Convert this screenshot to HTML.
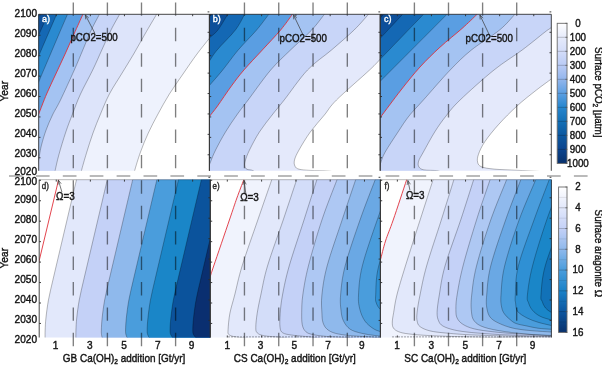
<!DOCTYPE html>
<html><head><meta charset="utf-8"><style>
html,body{margin:0;padding:0;background:#fff;}
body{width:602px;height:366px;position:relative;overflow:hidden;font-family:"Liberation Sans",sans-serif;}
#wrap{position:absolute;left:0;top:0;width:602px;height:366px;filter:blur(0.35px);}
</style></head><body><div id="wrap">
<svg xmlns="http://www.w3.org/2000/svg" width="602" height="366" viewBox="0 0 602 366" style="position:absolute;left:0;top:0">
<defs>
<clipPath id="clipa"><rect x="38.70" y="14.30" width="170.70" height="156.50"/></clipPath>
<clipPath id="clipb"><rect x="209.40" y="14.30" width="170.80" height="156.50"/></clipPath>
<clipPath id="clipc"><rect x="380.20" y="14.30" width="171.10" height="156.50"/></clipPath>
<clipPath id="clipd"><rect x="39.20" y="179.70" width="171.00" height="157.80"/></clipPath>
<clipPath id="clipe"><rect x="210.40" y="179.70" width="170.00" height="157.80"/></clipPath>
<clipPath id="clipf"><rect x="380.40" y="179.70" width="171.00" height="157.80"/></clipPath>
</defs>
<g clip-path="url(#clipa)">
<rect x="38.70" y="14.30" width="170.70" height="156.50" fill="#ffffff"/>
<path d="M213.00,33.50 C212.40,34.30 212.07,34.88 209.40,38.30 C206.73,41.72 201.40,48.05 197.00,54.00 C192.60,59.95 187.60,67.33 183.00,74.00 C178.40,80.67 173.57,87.33 169.40,94.00 C165.23,100.67 161.52,107.50 158.00,114.00 C154.48,120.50 151.22,126.67 148.30,133.00 C145.38,139.33 142.78,145.70 140.50,152.00 C138.22,158.30 135.68,166.97 134.60,170.80 C133.52,174.63 134.10,174.30 134.00,175.00 L134.00,250.80 L-41.30,250.80 L-41.30,-65.70 L289.40,-65.70 L289.40,33.50 Z" fill="#eef2fd"/>
<path d="M158.00,12.00 C157.77,12.38 158.77,10.63 156.60,14.30 C154.43,17.97 148.82,27.38 145.00,34.00 C141.18,40.62 137.62,47.33 133.70,54.00 C129.78,60.67 125.55,67.33 121.50,74.00 C117.45,80.67 112.90,87.33 109.40,94.00 C105.90,100.67 103.23,107.50 100.50,114.00 C97.77,120.50 95.33,126.50 93.00,133.00 C90.67,139.50 88.43,146.70 86.50,153.00 C84.57,159.30 82.35,167.13 81.40,170.80 C80.45,174.47 80.90,174.30 80.80,175.00 L80.80,250.80 L-41.30,250.80 L-41.30,-65.70 L158.00,-65.70 Z" fill="#dde4fa"/>
<path d="M120.80,12.00 C120.60,12.38 121.23,11.30 119.60,14.30 C117.97,17.30 113.97,24.05 111.00,30.00 C108.03,35.95 104.85,43.33 101.80,50.00 C98.75,56.67 96.25,62.67 92.70,70.00 C89.15,77.33 83.87,86.67 80.50,94.00 C77.13,101.33 74.95,107.67 72.50,114.00 C70.05,120.33 68.08,125.17 65.80,132.00 C63.52,138.83 60.58,148.53 58.80,155.00 C57.02,161.47 55.82,167.47 55.10,170.80 C54.38,174.13 54.60,174.30 54.50,175.00 L54.50,250.80 L-41.30,250.80 L-41.30,-65.70 L120.80,-65.70 Z" fill="#c8d5f8"/>
<path d="M100.40,12.00 C100.23,12.38 100.92,11.30 99.40,14.30 C97.88,17.30 94.07,24.05 91.30,30.00 C88.53,35.95 85.63,43.33 82.80,50.00 C79.97,56.67 78.02,61.67 74.30,70.00 C70.58,78.33 64.13,92.50 60.50,100.00 C56.87,107.50 54.90,110.00 52.50,115.00 C50.10,120.00 47.93,125.00 46.10,130.00 C44.27,135.00 42.60,140.83 41.50,145.00 C40.40,149.17 39.97,152.50 39.50,155.00 C39.03,157.50 38.98,158.17 38.70,160.00 C38.42,161.83 37.95,165.00 37.80,166.00 L-41.30,166.00 L-41.30,-65.70 L100.40,-65.70 Z" fill="#a4c3f2"/>
<path d="M84.00,12.00 C83.82,12.38 84.57,10.63 82.90,14.30 C81.23,17.97 76.97,27.38 74.00,34.00 C71.03,40.62 68.13,47.33 65.10,54.00 C62.07,60.67 58.88,67.33 55.80,74.00 C52.72,80.67 49.45,87.33 46.60,94.00 C43.75,100.67 40.30,110.00 38.70,114.00 C37.10,118.00 37.28,117.33 37.00,118.00 L-41.30,118.00 L-41.30,-65.70 L84.00,-65.70 Z" fill="#5a9ee2"/>
<path d="M68.50,12.00 C68.33,12.38 69.08,10.63 67.50,14.30 C65.92,17.97 61.83,27.38 59.00,34.00 C56.17,40.62 53.33,47.33 50.50,54.00 C47.67,60.67 43.97,69.33 42.00,74.00 C40.03,78.67 39.53,80.00 38.70,82.00 C37.87,84.00 37.28,85.33 37.00,86.00 L-41.30,86.00 L-41.30,-65.70 L68.50,-65.70 Z" fill="#2a8ad0"/>
<path d="M57.60,12.00 L36.50,61.00 L-41.30,61.00 L-41.30,-65.70 L57.60,-65.70 Z" fill="#1468b4"/>
<path d="M48.90,12.00 L36.50,40.00 L-41.30,40.00 L-41.30,-65.70 L48.90,-65.70 Z" fill="#0d4f9a"/>
<path d="M213.00,33.50 C212.40,34.30 212.07,34.88 209.40,38.30 C206.73,41.72 201.40,48.05 197.00,54.00 C192.60,59.95 187.60,67.33 183.00,74.00 C178.40,80.67 173.57,87.33 169.40,94.00 C165.23,100.67 161.52,107.50 158.00,114.00 C154.48,120.50 151.22,126.67 148.30,133.00 C145.38,139.33 142.78,145.70 140.50,152.00 C138.22,158.30 135.68,166.97 134.60,170.80 C133.52,174.63 134.10,174.30 134.00,175.00" fill="none" stroke="rgba(0,0,0,0.5)" stroke-width="0.55"/>
<path d="M158.00,12.00 C157.77,12.38 158.77,10.63 156.60,14.30 C154.43,17.97 148.82,27.38 145.00,34.00 C141.18,40.62 137.62,47.33 133.70,54.00 C129.78,60.67 125.55,67.33 121.50,74.00 C117.45,80.67 112.90,87.33 109.40,94.00 C105.90,100.67 103.23,107.50 100.50,114.00 C97.77,120.50 95.33,126.50 93.00,133.00 C90.67,139.50 88.43,146.70 86.50,153.00 C84.57,159.30 82.35,167.13 81.40,170.80 C80.45,174.47 80.90,174.30 80.80,175.00" fill="none" stroke="rgba(0,0,0,0.5)" stroke-width="0.55"/>
<path d="M120.80,12.00 C120.60,12.38 121.23,11.30 119.60,14.30 C117.97,17.30 113.97,24.05 111.00,30.00 C108.03,35.95 104.85,43.33 101.80,50.00 C98.75,56.67 96.25,62.67 92.70,70.00 C89.15,77.33 83.87,86.67 80.50,94.00 C77.13,101.33 74.95,107.67 72.50,114.00 C70.05,120.33 68.08,125.17 65.80,132.00 C63.52,138.83 60.58,148.53 58.80,155.00 C57.02,161.47 55.82,167.47 55.10,170.80 C54.38,174.13 54.60,174.30 54.50,175.00" fill="none" stroke="rgba(0,0,0,0.5)" stroke-width="0.55"/>
<path d="M100.40,12.00 C100.23,12.38 100.92,11.30 99.40,14.30 C97.88,17.30 94.07,24.05 91.30,30.00 C88.53,35.95 85.63,43.33 82.80,50.00 C79.97,56.67 78.02,61.67 74.30,70.00 C70.58,78.33 64.13,92.50 60.50,100.00 C56.87,107.50 54.90,110.00 52.50,115.00 C50.10,120.00 47.93,125.00 46.10,130.00 C44.27,135.00 42.60,140.83 41.50,145.00 C40.40,149.17 39.97,152.50 39.50,155.00 C39.03,157.50 38.98,158.17 38.70,160.00 C38.42,161.83 37.95,165.00 37.80,166.00" fill="none" stroke="rgba(0,0,0,0.5)" stroke-width="0.55"/>
<path d="M68.50,12.00 C68.33,12.38 69.08,10.63 67.50,14.30 C65.92,17.97 61.83,27.38 59.00,34.00 C56.17,40.62 53.33,47.33 50.50,54.00 C47.67,60.67 43.97,69.33 42.00,74.00 C40.03,78.67 39.53,80.00 38.70,82.00 C37.87,84.00 37.28,85.33 37.00,86.00" fill="none" stroke="rgba(0,0,0,0.5)" stroke-width="0.55"/>
<path d="M57.60,12.00 L36.50,61.00" fill="none" stroke="rgba(0,0,0,0.5)" stroke-width="0.55"/>
<path d="M48.90,12.00 L36.50,40.00" fill="none" stroke="rgba(0,0,0,0.5)" stroke-width="0.55"/>
<path d="M84.00,12.00 C83.82,12.38 84.57,10.63 82.90,14.30 C81.23,17.97 76.97,27.38 74.00,34.00 C71.03,40.62 68.13,47.33 65.10,54.00 C62.07,60.67 58.88,67.33 55.80,74.00 C52.72,80.67 49.45,87.33 46.60,94.00 C43.75,100.67 40.30,110.00 38.70,114.00 C37.10,118.00 37.28,117.33 37.00,118.00" fill="none" stroke="#e0303a" stroke-width="0.9"/>
</g>
<g clip-path="url(#clipb)">
<rect x="209.40" y="14.30" width="170.80" height="156.50" fill="#ffffff"/>
<path d="M384.00,55.20 C383.37,55.87 382.60,56.73 380.20,59.20 C377.80,61.67 376.88,63.20 369.60,70.00 C362.32,76.80 344.03,92.50 336.50,100.00 C328.97,107.50 328.77,109.67 324.40,115.00 C320.03,120.33 314.53,126.17 310.30,132.00 C306.07,137.83 301.63,145.33 299.00,150.00 C296.37,154.67 295.17,157.30 294.50,160.00 C293.83,162.70 294.25,164.67 295.00,166.20 C295.75,167.73 296.50,168.50 299.00,169.20 C301.50,169.90 304.83,170.07 310.00,170.40 C315.17,170.73 324.17,170.43 330.00,171.20 C335.83,171.97 342.50,174.37 345.00,175.00 L345.00,250.80 L129.40,250.80 L129.40,-65.70 L460.20,-65.70 L460.20,55.20 Z" fill="#e4e9fb"/>
<path d="M371.50,11.00 C371.00,11.55 371.40,11.13 368.50,14.30 C365.60,17.47 360.27,24.05 354.10,30.00 C347.93,35.95 339.27,43.33 331.50,50.00 C323.73,56.67 315.38,61.67 307.50,70.00 C299.62,78.33 290.10,92.50 284.20,100.00 C278.30,107.50 276.23,109.67 272.10,115.00 C267.97,120.33 263.17,126.17 259.40,132.00 C255.63,137.83 251.87,145.17 249.50,150.00 C247.13,154.83 245.98,158.28 245.20,161.00 C244.42,163.72 244.50,164.92 244.80,166.30 C245.10,167.68 245.63,168.58 247.00,169.30 C248.37,170.02 251.17,169.65 253.00,170.60 C254.83,171.55 257.17,174.27 258.00,175.00 L258.00,250.80 L129.40,250.80 L129.40,-65.70 L371.50,-65.70 Z" fill="#c8d5f8"/>
<path d="M327.30,11.00 C326.82,11.55 327.00,11.13 324.40,14.30 C321.80,17.47 317.35,24.05 311.70,30.00 C306.05,35.95 297.33,43.33 290.50,50.00 C283.67,56.67 277.77,61.67 270.70,70.00 C263.63,78.33 253.75,92.50 248.10,100.00 C242.45,107.50 240.57,109.67 236.80,115.00 C233.03,120.33 229.03,126.17 225.50,132.00 C221.97,137.83 218.10,145.00 215.60,150.00 C213.10,155.00 211.57,159.33 210.50,162.00 C209.43,164.67 209.62,164.33 209.20,166.00 C208.78,167.67 208.20,171.00 208.00,172.00 L129.40,172.00 L129.40,-65.70 L327.30,-65.70 Z" fill="#a4c3f2"/>
<path d="M295.00,11.00 C294.57,11.55 294.80,11.13 292.40,14.30 C290.00,17.47 285.62,24.05 280.60,30.00 C275.58,35.95 268.42,43.33 262.30,50.00 C256.18,56.67 249.05,64.00 243.90,70.00 C238.75,76.00 235.80,80.00 231.40,86.00 C227.00,92.00 221.17,100.92 217.50,106.00 C213.83,111.08 211.15,114.17 209.40,116.50 C207.65,118.83 207.40,119.42 207.00,120.00 L129.40,120.00 L129.40,-65.70 L295.00,-65.70 Z" fill="#5a9ee2"/>
<path d="M271.50,11.00 C271.05,11.55 271.28,11.13 268.80,14.30 C266.32,17.47 261.70,24.05 256.60,30.00 C251.50,35.95 243.85,43.33 238.20,50.00 C232.55,56.67 227.50,64.08 222.70,70.00 C217.90,75.92 212.10,82.33 209.40,85.50 C206.70,88.67 206.98,88.42 206.50,89.00 L129.40,89.00 L129.40,-65.70 L271.50,-65.70 Z" fill="#2a8ad0"/>
<path d="M247.30,11.00 C246.87,11.55 246.68,11.13 244.70,14.30 C242.72,17.47 240.00,24.05 235.40,30.00 C230.80,35.95 221.43,44.83 217.10,50.00 C212.77,55.17 211.17,58.50 209.40,61.00 C207.63,63.50 206.98,64.33 206.50,65.00 L129.40,65.00 L129.40,-65.70 L247.30,-65.70 Z" fill="#1468b4"/>
<path d="M230.50,11.00 C230.05,11.55 229.90,11.13 227.80,14.30 C225.70,17.47 220.97,26.07 217.90,30.00 C214.83,33.93 211.30,35.97 209.40,37.90 C207.50,39.83 206.98,40.98 206.50,41.60 L129.40,41.60 L129.40,-65.70 L230.50,-65.70 Z" fill="#0d4f9a"/>
<path d="M213.50,11.00 C213.22,11.55 212.48,13.33 211.80,14.30 C211.12,15.27 210.28,15.88 209.40,16.80 C208.52,17.72 206.98,19.30 206.50,19.80 L129.40,19.80 L129.40,-65.70 L213.50,-65.70 Z" fill="#0a3f88"/>
<path d="M384.00,55.20 C383.37,55.87 382.60,56.73 380.20,59.20 C377.80,61.67 376.88,63.20 369.60,70.00 C362.32,76.80 344.03,92.50 336.50,100.00 C328.97,107.50 328.77,109.67 324.40,115.00 C320.03,120.33 314.53,126.17 310.30,132.00 C306.07,137.83 301.63,145.33 299.00,150.00 C296.37,154.67 295.17,157.30 294.50,160.00 C293.83,162.70 294.25,164.67 295.00,166.20 C295.75,167.73 296.50,168.50 299.00,169.20 C301.50,169.90 304.83,170.07 310.00,170.40 C315.17,170.73 324.17,170.43 330.00,171.20 C335.83,171.97 342.50,174.37 345.00,175.00" fill="none" stroke="rgba(0,0,0,0.5)" stroke-width="0.55"/>
<path d="M371.50,11.00 C371.00,11.55 371.40,11.13 368.50,14.30 C365.60,17.47 360.27,24.05 354.10,30.00 C347.93,35.95 339.27,43.33 331.50,50.00 C323.73,56.67 315.38,61.67 307.50,70.00 C299.62,78.33 290.10,92.50 284.20,100.00 C278.30,107.50 276.23,109.67 272.10,115.00 C267.97,120.33 263.17,126.17 259.40,132.00 C255.63,137.83 251.87,145.17 249.50,150.00 C247.13,154.83 245.98,158.28 245.20,161.00 C244.42,163.72 244.50,164.92 244.80,166.30 C245.10,167.68 245.63,168.58 247.00,169.30 C248.37,170.02 251.17,169.65 253.00,170.60 C254.83,171.55 257.17,174.27 258.00,175.00" fill="none" stroke="rgba(0,0,0,0.5)" stroke-width="0.55"/>
<path d="M327.30,11.00 C326.82,11.55 327.00,11.13 324.40,14.30 C321.80,17.47 317.35,24.05 311.70,30.00 C306.05,35.95 297.33,43.33 290.50,50.00 C283.67,56.67 277.77,61.67 270.70,70.00 C263.63,78.33 253.75,92.50 248.10,100.00 C242.45,107.50 240.57,109.67 236.80,115.00 C233.03,120.33 229.03,126.17 225.50,132.00 C221.97,137.83 218.10,145.00 215.60,150.00 C213.10,155.00 211.57,159.33 210.50,162.00 C209.43,164.67 209.62,164.33 209.20,166.00 C208.78,167.67 208.20,171.00 208.00,172.00" fill="none" stroke="rgba(0,0,0,0.5)" stroke-width="0.55"/>
<path d="M271.50,11.00 C271.05,11.55 271.28,11.13 268.80,14.30 C266.32,17.47 261.70,24.05 256.60,30.00 C251.50,35.95 243.85,43.33 238.20,50.00 C232.55,56.67 227.50,64.08 222.70,70.00 C217.90,75.92 212.10,82.33 209.40,85.50 C206.70,88.67 206.98,88.42 206.50,89.00" fill="none" stroke="rgba(0,0,0,0.5)" stroke-width="0.55"/>
<path d="M247.30,11.00 C246.87,11.55 246.68,11.13 244.70,14.30 C242.72,17.47 240.00,24.05 235.40,30.00 C230.80,35.95 221.43,44.83 217.10,50.00 C212.77,55.17 211.17,58.50 209.40,61.00 C207.63,63.50 206.98,64.33 206.50,65.00" fill="none" stroke="rgba(0,0,0,0.5)" stroke-width="0.55"/>
<path d="M230.50,11.00 C230.05,11.55 229.90,11.13 227.80,14.30 C225.70,17.47 220.97,26.07 217.90,30.00 C214.83,33.93 211.30,35.97 209.40,37.90 C207.50,39.83 206.98,40.98 206.50,41.60" fill="none" stroke="rgba(0,0,0,0.5)" stroke-width="0.55"/>
<path d="M213.50,11.00 C213.22,11.55 212.48,13.33 211.80,14.30 C211.12,15.27 210.28,15.88 209.40,16.80 C208.52,17.72 206.98,19.30 206.50,19.80" fill="none" stroke="rgba(0,0,0,0.5)" stroke-width="0.55"/>
<path d="M295.00,11.00 C294.57,11.55 294.80,11.13 292.40,14.30 C290.00,17.47 285.62,24.05 280.60,30.00 C275.58,35.95 268.42,43.33 262.30,50.00 C256.18,56.67 249.05,64.00 243.90,70.00 C238.75,76.00 235.80,80.00 231.40,86.00 C227.00,92.00 221.17,100.92 217.50,106.00 C213.83,111.08 211.15,114.17 209.40,116.50 C207.65,118.83 207.40,119.42 207.00,120.00" fill="none" stroke="#e0303a" stroke-width="0.9"/>
</g>
<g clip-path="url(#clipc)">
<rect x="380.20" y="14.30" width="171.10" height="156.50" fill="#ffffff"/>
<path d="M553.50,75.80 C553.13,76.32 554.13,76.53 551.30,78.90 C548.47,81.27 542.22,85.48 536.50,90.00 C530.78,94.52 523.30,100.27 517.00,106.00 C510.70,111.73 504.05,118.47 498.70,124.40 C493.35,130.33 488.27,136.63 484.90,141.60 C481.53,146.57 479.72,150.77 478.50,154.20 C477.28,157.63 477.10,160.10 477.60,162.20 C478.10,164.30 478.75,165.65 481.50,166.80 C484.25,167.95 488.18,168.52 494.10,169.10 C500.02,169.68 509.35,169.90 517.00,170.30 C524.65,170.70 533.67,171.05 540.00,171.50 C546.33,171.95 552.50,172.75 555.00,173.00 L555.00,250.80 L300.20,250.80 L300.20,-65.70 L631.30,-65.70 L631.30,75.80 Z" fill="#e4e9fb"/>
<path d="M556.00,22.00 C555.22,22.92 553.13,25.83 551.30,27.50 C549.47,29.17 549.85,28.25 545.00,32.00 C540.15,35.75 530.70,43.67 522.20,50.00 C513.70,56.33 504.35,61.67 494.00,70.00 C483.65,78.33 468.10,92.33 460.10,100.00 C452.10,107.67 450.23,110.67 446.00,116.00 C441.77,121.33 438.47,126.00 434.70,132.00 C430.93,138.00 426.08,147.13 423.40,152.00 C420.72,156.87 419.35,158.72 418.60,161.20 C417.85,163.68 418.02,165.45 418.90,166.90 C419.78,168.35 420.77,169.25 423.90,169.90 C427.03,170.55 434.18,170.12 437.70,170.80 C441.22,171.48 443.78,173.47 445.00,174.00 L445.00,250.80 L300.20,250.80 L300.20,-65.70 L631.30,-65.70 L631.30,22.00 Z" fill="#c8d5f8"/>
<path d="M518.00,11.00 C517.48,11.55 517.97,11.13 514.90,14.30 C511.83,17.47 506.85,24.05 499.60,30.00 C492.35,35.95 479.63,43.33 471.40,50.00 C463.17,56.67 458.20,61.67 450.20,70.00 C442.20,78.33 430.27,92.33 423.40,100.00 C416.53,107.67 413.23,110.67 409.00,116.00 C404.77,121.33 401.97,126.00 398.00,132.00 C394.03,138.00 388.03,147.00 385.20,152.00 C382.37,157.00 381.90,159.50 381.00,162.00 C380.10,164.50 380.30,164.83 379.80,167.00 C379.30,169.17 378.30,173.67 378.00,175.00 L300.20,175.00 L300.20,-65.70 L518.00,-65.70 Z" fill="#a4c3f2"/>
<path d="M479.50,11.00 C479.08,11.55 479.92,11.38 477.00,14.30 C474.08,17.22 468.17,23.02 462.00,28.50 C455.83,33.98 447.00,40.78 440.00,47.20 C433.00,53.62 426.50,59.87 420.00,67.00 C413.50,74.13 407.63,81.58 401.00,90.00 C394.37,98.42 384.20,112.33 380.20,117.50 C376.20,122.67 377.53,120.42 377.00,121.00 L300.20,121.00 L300.20,-65.70 L479.50,-65.70 Z" fill="#5a9ee2"/>
<path d="M450.00,11.00 C449.50,11.55 458.63,2.58 447.00,14.30 C435.37,26.02 391.87,69.60 380.20,81.30 C368.53,93.00 377.53,83.97 377.00,84.50 L300.20,84.50 L300.20,-65.70 L450.00,-65.70 Z" fill="#2a8ad0"/>
<path d="M426.50,11.00 C426.00,11.55 431.22,6.27 423.50,14.30 C415.78,22.33 387.95,51.17 380.20,59.20 C372.45,67.23 377.53,61.95 377.00,62.50 L300.20,62.50 L300.20,-65.70 L426.50,-65.70 Z" fill="#1468b4"/>
<path d="M405.60,11.00 C405.10,11.55 406.83,9.75 402.60,14.30 C398.37,18.85 384.47,33.73 380.20,38.30 C375.93,42.87 377.53,41.13 377.00,41.70 L300.20,41.70 L300.20,-65.70 L405.60,-65.70 Z" fill="#0d4f9a"/>
<path d="M385.80,11.00 C385.40,11.55 384.33,13.10 383.40,14.30 C382.47,15.50 381.27,16.92 380.20,18.20 C379.13,19.48 377.53,21.37 377.00,22.00 L300.20,22.00 L300.20,-65.70 L385.80,-65.70 Z" fill="#0a3f88"/>
<path d="M553.50,75.80 C553.13,76.32 554.13,76.53 551.30,78.90 C548.47,81.27 542.22,85.48 536.50,90.00 C530.78,94.52 523.30,100.27 517.00,106.00 C510.70,111.73 504.05,118.47 498.70,124.40 C493.35,130.33 488.27,136.63 484.90,141.60 C481.53,146.57 479.72,150.77 478.50,154.20 C477.28,157.63 477.10,160.10 477.60,162.20 C478.10,164.30 478.75,165.65 481.50,166.80 C484.25,167.95 488.18,168.52 494.10,169.10 C500.02,169.68 509.35,169.90 517.00,170.30 C524.65,170.70 533.67,171.05 540.00,171.50 C546.33,171.95 552.50,172.75 555.00,173.00" fill="none" stroke="rgba(0,0,0,0.5)" stroke-width="0.55"/>
<path d="M556.00,22.00 C555.22,22.92 553.13,25.83 551.30,27.50 C549.47,29.17 549.85,28.25 545.00,32.00 C540.15,35.75 530.70,43.67 522.20,50.00 C513.70,56.33 504.35,61.67 494.00,70.00 C483.65,78.33 468.10,92.33 460.10,100.00 C452.10,107.67 450.23,110.67 446.00,116.00 C441.77,121.33 438.47,126.00 434.70,132.00 C430.93,138.00 426.08,147.13 423.40,152.00 C420.72,156.87 419.35,158.72 418.60,161.20 C417.85,163.68 418.02,165.45 418.90,166.90 C419.78,168.35 420.77,169.25 423.90,169.90 C427.03,170.55 434.18,170.12 437.70,170.80 C441.22,171.48 443.78,173.47 445.00,174.00" fill="none" stroke="rgba(0,0,0,0.5)" stroke-width="0.55"/>
<path d="M518.00,11.00 C517.48,11.55 517.97,11.13 514.90,14.30 C511.83,17.47 506.85,24.05 499.60,30.00 C492.35,35.95 479.63,43.33 471.40,50.00 C463.17,56.67 458.20,61.67 450.20,70.00 C442.20,78.33 430.27,92.33 423.40,100.00 C416.53,107.67 413.23,110.67 409.00,116.00 C404.77,121.33 401.97,126.00 398.00,132.00 C394.03,138.00 388.03,147.00 385.20,152.00 C382.37,157.00 381.90,159.50 381.00,162.00 C380.10,164.50 380.30,164.83 379.80,167.00 C379.30,169.17 378.30,173.67 378.00,175.00" fill="none" stroke="rgba(0,0,0,0.5)" stroke-width="0.55"/>
<path d="M450.00,11.00 C449.50,11.55 458.63,2.58 447.00,14.30 C435.37,26.02 391.87,69.60 380.20,81.30 C368.53,93.00 377.53,83.97 377.00,84.50" fill="none" stroke="rgba(0,0,0,0.5)" stroke-width="0.55"/>
<path d="M426.50,11.00 C426.00,11.55 431.22,6.27 423.50,14.30 C415.78,22.33 387.95,51.17 380.20,59.20 C372.45,67.23 377.53,61.95 377.00,62.50" fill="none" stroke="rgba(0,0,0,0.5)" stroke-width="0.55"/>
<path d="M405.60,11.00 C405.10,11.55 406.83,9.75 402.60,14.30 C398.37,18.85 384.47,33.73 380.20,38.30 C375.93,42.87 377.53,41.13 377.00,41.70" fill="none" stroke="rgba(0,0,0,0.5)" stroke-width="0.55"/>
<path d="M385.80,11.00 C385.40,11.55 384.33,13.10 383.40,14.30 C382.47,15.50 381.27,16.92 380.20,18.20 C379.13,19.48 377.53,21.37 377.00,22.00" fill="none" stroke="rgba(0,0,0,0.5)" stroke-width="0.55"/>
<path d="M479.50,11.00 C479.08,11.55 479.92,11.38 477.00,14.30 C474.08,17.22 468.17,23.02 462.00,28.50 C455.83,33.98 447.00,40.78 440.00,47.20 C433.00,53.62 426.50,59.87 420.00,67.00 C413.50,74.13 407.63,81.58 401.00,90.00 C394.37,98.42 384.20,112.33 380.20,117.50 C376.20,122.67 377.53,120.42 377.00,121.00" fill="none" stroke="#e0303a" stroke-width="0.9"/>
</g>
<g clip-path="url(#clipd)">
<rect x="39.20" y="179.70" width="171.00" height="157.80" fill="#ffffff"/>
<path d="M77.34,176.00 C77.20,176.62 77.41,175.70 76.47,179.70 C75.53,183.70 73.28,193.28 71.70,200.00 C70.12,206.72 68.57,213.33 67.00,220.00 C65.43,226.67 63.87,233.33 62.30,240.00 C60.73,246.67 59.17,253.33 57.60,260.00 C56.03,266.67 54.43,273.33 52.90,280.00 C51.38,286.67 49.61,293.67 48.45,300.00 C47.29,306.33 46.48,313.00 45.93,318.00 C45.38,323.00 45.30,326.75 45.15,330.00 C45.00,333.25 45.10,335.67 45.03,337.50 C44.96,339.33 44.78,340.42 44.73,341.00 L44.73,417.50 L290.20,417.50 L290.20,99.70 L77.34,99.70 Z" fill="#e2e8fb"/>
<path d="M108.14,176.00 C108.00,176.62 108.21,175.70 107.27,179.70 C106.33,183.70 104.08,193.28 102.50,200.00 C100.92,206.72 99.37,213.33 97.80,220.00 C96.23,226.67 94.67,233.33 93.10,240.00 C91.53,246.67 89.97,253.33 88.40,260.00 C86.83,266.67 85.23,273.33 83.70,280.00 C82.17,286.67 80.41,293.67 79.25,300.00 C78.09,306.33 77.28,313.00 76.73,318.00 C76.18,323.00 76.10,326.75 75.95,330.00 C75.80,333.25 75.90,335.67 75.83,337.50 C75.76,339.33 75.58,340.42 75.53,341.00 L75.53,417.50 L290.20,417.50 L290.20,99.70 L108.14,99.70 Z" fill="#c4d1f7"/>
<path d="M133.54,176.00 C133.40,176.62 133.61,175.70 132.67,179.70 C131.73,183.70 129.48,193.28 127.90,200.00 C126.32,206.72 124.77,213.33 123.20,220.00 C121.63,226.67 120.07,233.33 118.50,240.00 C116.93,246.67 115.37,253.33 113.80,260.00 C112.23,266.67 110.62,273.33 109.10,280.00 C107.57,286.67 105.81,293.67 104.65,300.00 C103.49,306.33 102.68,313.00 102.13,318.00 C101.58,323.00 101.45,327.25 101.35,330.00 C101.25,332.75 101.41,333.25 101.53,334.50 C101.65,335.75 101.90,336.58 102.07,337.50 C102.24,338.42 102.47,339.58 102.55,340.00 L102.55,417.50 L290.20,417.50 L290.20,99.70 L133.54,99.70 Z" fill="#8fb9ec"/>
<path d="M157.74,176.00 C157.60,176.62 157.81,175.70 156.87,179.70 C155.93,183.70 153.68,193.28 152.10,200.00 C150.52,206.72 148.97,213.33 147.40,220.00 C145.83,226.67 144.27,233.33 142.70,240.00 C141.13,246.67 139.57,253.33 138.00,260.00 C136.43,266.67 134.83,273.33 133.30,280.00 C131.78,286.67 130.01,293.67 128.85,300.00 C127.69,306.33 126.88,313.00 126.33,318.00 C125.78,323.00 125.62,327.25 125.55,330.00 C125.48,332.75 125.67,333.25 125.91,334.50 C126.15,335.75 126.65,336.58 126.99,337.50 C127.33,338.42 127.79,339.58 127.95,340.00 L127.95,417.50 L290.20,417.50 L290.20,99.70 L157.74,99.70 Z" fill="#4a9ddc"/>
<path d="M179.34,176.00 C179.20,176.62 179.41,175.70 178.47,179.70 C177.53,183.70 175.28,193.28 173.70,200.00 C172.12,206.72 170.57,213.33 169.00,220.00 C167.43,226.67 165.87,233.33 164.30,240.00 C162.73,246.67 161.17,253.33 159.60,260.00 C158.03,266.67 156.43,273.33 154.90,280.00 C153.38,286.67 151.61,293.67 150.45,300.00 C149.29,306.33 148.48,313.00 147.93,318.00 C147.38,323.00 147.20,327.25 147.15,330.00 C147.10,332.75 147.31,333.25 147.63,334.50 C147.95,335.75 148.62,336.58 149.07,337.50 C149.52,338.42 150.14,339.58 150.35,340.00 L150.35,417.50 L290.20,417.50 L290.20,99.70 L179.34,99.70 Z" fill="#1a86c8"/>
<path d="M202.24,176.00 C202.10,176.62 202.31,175.70 201.37,179.70 C200.43,183.70 198.18,193.28 196.60,200.00 C195.02,206.72 193.47,213.33 191.90,220.00 C190.33,226.67 188.77,233.33 187.20,240.00 C185.63,246.67 184.07,253.33 182.50,260.00 C180.93,266.67 179.33,273.33 177.80,280.00 C176.28,286.67 174.51,293.67 173.35,300.00 C172.19,306.33 171.38,313.00 170.83,318.00 C170.28,323.00 170.08,327.25 170.05,330.00 C170.02,332.75 170.25,333.25 170.65,334.50 C171.05,335.75 171.88,336.58 172.45,337.50 C173.02,338.42 173.78,339.58 174.05,340.00 L174.05,417.50 L290.20,417.50 L290.20,99.70 L202.24,99.70 Z" fill="#0b539c"/>
<path d="M224.94,176.00 C224.80,176.62 225.01,175.70 224.07,179.70 C223.13,183.70 220.88,193.28 219.30,200.00 C217.72,206.72 216.17,213.33 214.60,220.00 C213.03,226.67 211.47,233.33 209.90,240.00 C208.33,246.67 206.77,253.33 205.20,260.00 C203.63,266.67 202.03,273.33 200.50,280.00 C198.97,286.67 197.21,293.67 196.05,300.00 C194.89,306.33 194.08,313.00 193.53,318.00 C192.98,323.00 192.76,327.25 192.75,330.00 C192.74,332.75 192.99,333.25 193.47,334.50 C193.95,335.75 194.95,336.58 195.63,337.50 C196.31,338.42 197.23,339.58 197.55,340.00 L197.55,417.50 L290.20,417.50 L290.20,99.70 L224.94,99.70 Z" fill="#0a2f70"/>
<path d="M77.34,176.00 C77.20,176.62 77.41,175.70 76.47,179.70 C75.53,183.70 73.28,193.28 71.70,200.00 C70.12,206.72 68.57,213.33 67.00,220.00 C65.43,226.67 63.87,233.33 62.30,240.00 C60.73,246.67 59.17,253.33 57.60,260.00 C56.03,266.67 54.43,273.33 52.90,280.00 C51.38,286.67 49.61,293.67 48.45,300.00 C47.29,306.33 46.48,313.00 45.93,318.00 C45.38,323.00 45.30,326.75 45.15,330.00 C45.00,333.25 45.10,335.67 45.03,337.50 C44.96,339.33 44.78,340.42 44.73,341.00" fill="none" stroke="rgba(0,0,0,0.5)" stroke-width="0.55"/>
<path d="M108.14,176.00 C108.00,176.62 108.21,175.70 107.27,179.70 C106.33,183.70 104.08,193.28 102.50,200.00 C100.92,206.72 99.37,213.33 97.80,220.00 C96.23,226.67 94.67,233.33 93.10,240.00 C91.53,246.67 89.97,253.33 88.40,260.00 C86.83,266.67 85.23,273.33 83.70,280.00 C82.17,286.67 80.41,293.67 79.25,300.00 C78.09,306.33 77.28,313.00 76.73,318.00 C76.18,323.00 76.10,326.75 75.95,330.00 C75.80,333.25 75.90,335.67 75.83,337.50 C75.76,339.33 75.58,340.42 75.53,341.00" fill="none" stroke="rgba(0,0,0,0.5)" stroke-width="0.55"/>
<path d="M133.54,176.00 C133.40,176.62 133.61,175.70 132.67,179.70 C131.73,183.70 129.48,193.28 127.90,200.00 C126.32,206.72 124.77,213.33 123.20,220.00 C121.63,226.67 120.07,233.33 118.50,240.00 C116.93,246.67 115.37,253.33 113.80,260.00 C112.23,266.67 110.62,273.33 109.10,280.00 C107.57,286.67 105.81,293.67 104.65,300.00 C103.49,306.33 102.68,313.00 102.13,318.00 C101.58,323.00 101.45,327.25 101.35,330.00 C101.25,332.75 101.41,333.25 101.53,334.50 C101.65,335.75 101.90,336.58 102.07,337.50 C102.24,338.42 102.47,339.58 102.55,340.00" fill="none" stroke="rgba(0,0,0,0.5)" stroke-width="0.55"/>
<path d="M157.74,176.00 C157.60,176.62 157.81,175.70 156.87,179.70 C155.93,183.70 153.68,193.28 152.10,200.00 C150.52,206.72 148.97,213.33 147.40,220.00 C145.83,226.67 144.27,233.33 142.70,240.00 C141.13,246.67 139.57,253.33 138.00,260.00 C136.43,266.67 134.83,273.33 133.30,280.00 C131.78,286.67 130.01,293.67 128.85,300.00 C127.69,306.33 126.88,313.00 126.33,318.00 C125.78,323.00 125.62,327.25 125.55,330.00 C125.48,332.75 125.67,333.25 125.91,334.50 C126.15,335.75 126.65,336.58 126.99,337.50 C127.33,338.42 127.79,339.58 127.95,340.00" fill="none" stroke="rgba(0,0,0,0.5)" stroke-width="0.55"/>
<path d="M179.34,176.00 C179.20,176.62 179.41,175.70 178.47,179.70 C177.53,183.70 175.28,193.28 173.70,200.00 C172.12,206.72 170.57,213.33 169.00,220.00 C167.43,226.67 165.87,233.33 164.30,240.00 C162.73,246.67 161.17,253.33 159.60,260.00 C158.03,266.67 156.43,273.33 154.90,280.00 C153.38,286.67 151.61,293.67 150.45,300.00 C149.29,306.33 148.48,313.00 147.93,318.00 C147.38,323.00 147.20,327.25 147.15,330.00 C147.10,332.75 147.31,333.25 147.63,334.50 C147.95,335.75 148.62,336.58 149.07,337.50 C149.52,338.42 150.14,339.58 150.35,340.00" fill="none" stroke="rgba(0,0,0,0.5)" stroke-width="0.55"/>
<path d="M202.24,176.00 C202.10,176.62 202.31,175.70 201.37,179.70 C200.43,183.70 198.18,193.28 196.60,200.00 C195.02,206.72 193.47,213.33 191.90,220.00 C190.33,226.67 188.77,233.33 187.20,240.00 C185.63,246.67 184.07,253.33 182.50,260.00 C180.93,266.67 179.33,273.33 177.80,280.00 C176.28,286.67 174.51,293.67 173.35,300.00 C172.19,306.33 171.38,313.00 170.83,318.00 C170.28,323.00 170.08,327.25 170.05,330.00 C170.02,332.75 170.25,333.25 170.65,334.50 C171.05,335.75 171.88,336.58 172.45,337.50 C173.02,338.42 173.78,339.58 174.05,340.00" fill="none" stroke="rgba(0,0,0,0.5)" stroke-width="0.55"/>
<path d="M224.94,176.00 C224.80,176.62 225.01,175.70 224.07,179.70 C223.13,183.70 220.88,193.28 219.30,200.00 C217.72,206.72 216.17,213.33 214.60,220.00 C213.03,226.67 211.47,233.33 209.90,240.00 C208.33,246.67 206.77,253.33 205.20,260.00 C203.63,266.67 202.03,273.33 200.50,280.00 C198.97,286.67 197.21,293.67 196.05,300.00 C194.89,306.33 194.08,313.00 193.53,318.00 C192.98,323.00 192.76,327.25 192.75,330.00 C192.74,332.75 192.99,333.25 193.47,334.50 C193.95,335.75 194.95,336.58 195.63,337.50 C196.31,338.42 197.23,339.58 197.55,340.00" fill="none" stroke="rgba(0,0,0,0.5)" stroke-width="0.55"/>
<path d="M60.4,176 L58.6,179.7 L39.2,260.6 L38,265" fill="none" stroke="#e0303a" stroke-width="0.9"/>
</g>
<g clip-path="url(#clipe)">
<rect x="210.40" y="179.70" width="170.00" height="157.80" fill="#ffffff"/>
<path d="M245.00,176.00 C244.77,176.70 244.95,176.53 243.60,180.20 C242.25,183.87 239.27,191.37 236.90,198.00 C234.53,204.63 233.27,208.67 229.40,220.00 C225.53,231.33 216.87,256.67 213.70,266.00 C210.53,275.33 211.27,273.50 210.40,276.00 C209.53,278.50 208.82,280.17 208.50,281.00 L130.40,281.00 L130.40,417.50 L460.40,417.50 L460.40,99.70 L245.00,99.70 Z" fill="#f0f3fd"/>
<path d="M273.11,176.00 C272.86,176.70 274.15,172.87 271.60,180.20 C269.05,187.53 262.72,205.70 257.80,220.00 C252.88,234.30 245.95,253.50 242.10,266.00 C238.25,278.50 236.73,287.12 234.70,295.00 C232.67,302.88 231.00,307.57 229.90,313.30 C228.80,319.03 228.28,325.87 228.10,329.40 C227.92,332.93 227.73,333.28 228.80,334.50 C229.87,335.72 231.80,336.12 234.50,336.70 C237.20,337.28 240.75,337.45 245.00,338.00 C249.25,338.55 257.50,339.67 260.00,340.00 L260.00,417.50 L460.40,417.50 L460.40,99.70 L273.11,99.70 Z" fill="#e2e8fb"/>
<path d="M298.01,176.00 C297.76,176.70 298.97,172.87 296.50,180.20 C294.03,187.53 288.03,205.70 283.20,220.00 C278.37,234.30 271.23,253.50 267.50,266.00 C263.77,278.50 262.52,287.12 260.80,295.00 C259.08,302.88 258.03,307.95 257.20,313.30 C256.37,318.65 255.80,323.85 255.80,327.10 C255.80,330.35 255.78,331.35 257.20,332.80 C258.62,334.25 260.50,335.05 264.30,335.80 C268.10,336.55 274.05,336.60 280.00,337.30 C285.95,338.00 296.67,339.55 300.00,340.00 L300.00,417.50 L460.40,417.50 L460.40,99.70 L298.01,99.70 Z" fill="#d3ddf9"/>
<path d="M318.21,176.00 C317.96,176.70 319.07,172.87 316.70,180.20 C314.33,187.53 308.58,205.70 304.00,220.00 C299.42,234.30 292.78,253.50 289.20,266.00 C285.62,278.50 284.00,287.12 282.50,295.00 C281.00,302.88 280.62,307.95 280.20,313.30 C279.78,318.65 279.58,323.85 280.00,327.10 C280.42,330.35 280.72,331.47 282.70,332.80 C284.68,334.13 287.35,334.40 291.90,335.10 C296.45,335.80 303.65,336.18 310.00,337.00 C316.35,337.82 326.67,339.50 330.00,340.00 L330.00,417.50 L460.40,417.50 L460.40,99.70 L318.21,99.70 Z" fill="#c4d1f7"/>
<path d="M338.31,176.00 C338.06,176.70 339.54,172.87 336.80,180.20 C334.06,187.53 326.63,205.70 321.90,220.00 C317.17,234.30 311.58,253.50 308.40,266.00 C305.22,278.50 303.92,287.20 302.80,295.00 C301.68,302.80 301.80,307.92 301.70,312.80 C301.60,317.68 301.65,321.30 302.20,324.30 C302.75,327.30 303.57,329.17 305.00,330.80 C306.43,332.43 307.47,333.18 310.80,334.10 C314.13,335.02 318.47,335.65 325.00,336.30 C331.53,336.95 342.50,337.38 350.00,338.00 C357.50,338.62 366.67,339.67 370.00,340.00 L370.00,417.50 L460.40,417.50 L460.40,99.70 L338.31,99.70 Z" fill="#aec8f3"/>
<path d="M357.01,176.00 C356.76,176.70 357.99,172.87 355.50,180.20 C353.01,187.53 346.83,205.70 342.10,220.00 C337.37,234.30 330.47,253.50 327.10,266.00 C323.73,278.50 322.77,287.20 321.90,295.00 C321.03,302.80 321.72,308.20 321.90,312.80 C322.08,317.40 322.13,319.87 323.00,322.60 C323.87,325.33 325.05,327.42 327.10,329.20 C329.15,330.98 331.48,332.23 335.30,333.30 C339.12,334.37 344.22,334.98 350.00,335.60 C355.78,336.22 363.33,336.43 370.00,337.00 C376.67,337.57 386.67,338.67 390.00,339.00 L390.00,417.50 L460.40,417.50 L460.40,99.70 L357.01,99.70 Z" fill="#8fb9ec"/>
<path d="M376.51,176.00 C376.26,176.70 377.75,172.87 375.00,180.20 C372.25,187.53 364.98,205.70 360.00,220.00 C355.02,234.30 348.33,253.50 345.10,266.00 C341.87,278.50 341.27,287.48 340.60,295.00 C339.93,302.52 340.62,306.77 341.10,311.10 C341.58,315.43 342.00,317.98 343.50,321.00 C345.00,324.02 347.08,327.15 350.10,329.20 C353.12,331.25 357.45,332.25 361.60,333.30 C365.75,334.35 370.27,334.88 375.00,335.50 C379.73,336.12 387.50,336.75 390.00,337.00 L390.00,417.50 L460.40,417.50 L460.40,99.70 L376.51,99.70 Z" fill="#6aa8e4"/>
<path d="M393.51,176.00 C393.26,176.70 394.72,172.87 392.00,180.20 C389.28,187.53 382.15,205.70 377.20,220.00 C372.25,234.30 365.42,253.50 362.30,266.00 C359.18,278.50 358.90,287.75 358.50,295.00 C358.10,302.25 358.83,305.17 359.90,309.50 C360.97,313.83 362.72,317.85 364.90,321.00 C367.08,324.15 370.42,326.63 373.00,328.40 C375.58,330.17 377.57,330.67 380.40,331.60 C383.23,332.53 388.40,333.60 390.00,334.00 L460.40,334.00 L460.40,99.70 L393.51,99.70 Z" fill="#4a9ddc"/>
<path d="M411.51,176.00 C411.26,176.70 412.75,172.87 410.00,180.20 C407.25,187.53 400.22,205.70 395.00,220.00 C389.78,234.30 381.92,253.50 378.70,266.00 C375.48,278.50 376.10,288.83 375.70,295.00 C375.30,301.17 375.52,300.58 376.30,303.00 C377.08,305.42 378.45,307.67 380.40,309.50 C382.35,311.33 386.73,313.25 388.00,314.00 L460.40,314.00 L460.40,99.70 L411.51,99.70 Z" fill="#2f90d4"/>
<path d="M273.11,176.00 C272.86,176.70 274.15,172.87 271.60,180.20 C269.05,187.53 262.72,205.70 257.80,220.00 C252.88,234.30 245.95,253.50 242.10,266.00 C238.25,278.50 236.73,287.12 234.70,295.00 C232.67,302.88 231.00,307.57 229.90,313.30 C228.80,319.03 228.28,325.87 228.10,329.40 C227.92,332.93 227.73,333.28 228.80,334.50 C229.87,335.72 231.80,336.12 234.50,336.70 C237.20,337.28 240.75,337.45 245.00,338.00 C249.25,338.55 257.50,339.67 260.00,340.00" fill="none" stroke="rgba(0,0,0,0.5)" stroke-width="0.55"/>
<path d="M298.01,176.00 C297.76,176.70 298.97,172.87 296.50,180.20 C294.03,187.53 288.03,205.70 283.20,220.00 C278.37,234.30 271.23,253.50 267.50,266.00 C263.77,278.50 262.52,287.12 260.80,295.00 C259.08,302.88 258.03,307.95 257.20,313.30 C256.37,318.65 255.80,323.85 255.80,327.10 C255.80,330.35 255.78,331.35 257.20,332.80 C258.62,334.25 260.50,335.05 264.30,335.80 C268.10,336.55 274.05,336.60 280.00,337.30 C285.95,338.00 296.67,339.55 300.00,340.00" fill="none" stroke="rgba(0,0,0,0.5)" stroke-width="0.55"/>
<path d="M318.21,176.00 C317.96,176.70 319.07,172.87 316.70,180.20 C314.33,187.53 308.58,205.70 304.00,220.00 C299.42,234.30 292.78,253.50 289.20,266.00 C285.62,278.50 284.00,287.12 282.50,295.00 C281.00,302.88 280.62,307.95 280.20,313.30 C279.78,318.65 279.58,323.85 280.00,327.10 C280.42,330.35 280.72,331.47 282.70,332.80 C284.68,334.13 287.35,334.40 291.90,335.10 C296.45,335.80 303.65,336.18 310.00,337.00 C316.35,337.82 326.67,339.50 330.00,340.00" fill="none" stroke="rgba(0,0,0,0.5)" stroke-width="0.55"/>
<path d="M338.31,176.00 C338.06,176.70 339.54,172.87 336.80,180.20 C334.06,187.53 326.63,205.70 321.90,220.00 C317.17,234.30 311.58,253.50 308.40,266.00 C305.22,278.50 303.92,287.20 302.80,295.00 C301.68,302.80 301.80,307.92 301.70,312.80 C301.60,317.68 301.65,321.30 302.20,324.30 C302.75,327.30 303.57,329.17 305.00,330.80 C306.43,332.43 307.47,333.18 310.80,334.10 C314.13,335.02 318.47,335.65 325.00,336.30 C331.53,336.95 342.50,337.38 350.00,338.00 C357.50,338.62 366.67,339.67 370.00,340.00" fill="none" stroke="rgba(0,0,0,0.5)" stroke-width="0.55"/>
<path d="M357.01,176.00 C356.76,176.70 357.99,172.87 355.50,180.20 C353.01,187.53 346.83,205.70 342.10,220.00 C337.37,234.30 330.47,253.50 327.10,266.00 C323.73,278.50 322.77,287.20 321.90,295.00 C321.03,302.80 321.72,308.20 321.90,312.80 C322.08,317.40 322.13,319.87 323.00,322.60 C323.87,325.33 325.05,327.42 327.10,329.20 C329.15,330.98 331.48,332.23 335.30,333.30 C339.12,334.37 344.22,334.98 350.00,335.60 C355.78,336.22 363.33,336.43 370.00,337.00 C376.67,337.57 386.67,338.67 390.00,339.00" fill="none" stroke="rgba(0,0,0,0.5)" stroke-width="0.55"/>
<path d="M376.51,176.00 C376.26,176.70 377.75,172.87 375.00,180.20 C372.25,187.53 364.98,205.70 360.00,220.00 C355.02,234.30 348.33,253.50 345.10,266.00 C341.87,278.50 341.27,287.48 340.60,295.00 C339.93,302.52 340.62,306.77 341.10,311.10 C341.58,315.43 342.00,317.98 343.50,321.00 C345.00,324.02 347.08,327.15 350.10,329.20 C353.12,331.25 357.45,332.25 361.60,333.30 C365.75,334.35 370.27,334.88 375.00,335.50 C379.73,336.12 387.50,336.75 390.00,337.00" fill="none" stroke="rgba(0,0,0,0.5)" stroke-width="0.55"/>
<path d="M393.51,176.00 C393.26,176.70 394.72,172.87 392.00,180.20 C389.28,187.53 382.15,205.70 377.20,220.00 C372.25,234.30 365.42,253.50 362.30,266.00 C359.18,278.50 358.90,287.75 358.50,295.00 C358.10,302.25 358.83,305.17 359.90,309.50 C360.97,313.83 362.72,317.85 364.90,321.00 C367.08,324.15 370.42,326.63 373.00,328.40 C375.58,330.17 377.57,330.67 380.40,331.60 C383.23,332.53 388.40,333.60 390.00,334.00" fill="none" stroke="rgba(0,0,0,0.5)" stroke-width="0.55"/>
<path d="M411.51,176.00 C411.26,176.70 412.75,172.87 410.00,180.20 C407.25,187.53 400.22,205.70 395.00,220.00 C389.78,234.30 381.92,253.50 378.70,266.00 C375.48,278.50 376.10,288.83 375.70,295.00 C375.30,301.17 375.52,300.58 376.30,303.00 C377.08,305.42 378.45,307.67 380.40,309.50 C382.35,311.33 386.73,313.25 388.00,314.00" fill="none" stroke="rgba(0,0,0,0.5)" stroke-width="0.55"/>
<path d="M245.00,176.00 C244.77,176.70 244.95,176.53 243.60,180.20 C242.25,183.87 239.27,191.37 236.90,198.00 C234.53,204.63 233.27,208.67 229.40,220.00 C225.53,231.33 216.87,256.67 213.70,266.00 C210.53,275.33 211.27,273.50 210.40,276.00 C209.53,278.50 208.82,280.17 208.50,281.00" fill="none" stroke="#e0303a" stroke-width="0.9"/>
</g>
<g clip-path="url(#clipf)">
<rect x="380.40" y="179.70" width="171.00" height="157.80" fill="#ffffff"/>
<path d="M407.90,176.00 C407.67,176.70 408.95,172.87 406.50,180.20 C404.05,187.53 396.70,209.87 393.20,220.00 C389.70,230.13 387.63,234.33 385.50,241.00 C383.37,247.67 381.57,255.83 380.40,260.00 C379.23,264.17 378.82,265.00 378.50,266.00 L300.40,266.00 L300.40,417.50 L631.40,417.50 L631.40,99.70 L407.90,99.70 Z" fill="#f0f3fd"/>
<path d="M434.29,176.00 C434.06,176.70 435.26,172.87 432.90,180.20 C430.54,187.53 424.68,205.70 420.10,220.00 C415.52,234.30 409.27,253.50 405.40,266.00 C401.53,278.50 398.85,287.28 396.90,295.00 C394.95,302.72 394.47,307.80 393.70,312.30 C392.93,316.80 392.35,319.38 392.30,322.00 C392.25,324.62 392.35,326.38 393.40,328.00 C394.45,329.62 396.07,330.72 398.60,331.70 C401.13,332.68 403.37,333.25 408.60,333.90 C413.83,334.55 419.77,335.08 430.00,335.60 C440.23,336.12 455.00,336.60 470.00,337.00 C485.00,337.40 505.00,337.67 520.00,338.00 C535.00,338.33 553.33,338.83 560.00,339.00 L560.00,417.50 L631.40,417.50 L631.40,99.70 L434.29,99.70 Z" fill="#e2e8fb"/>
<path d="M455.09,176.00 C454.86,176.70 456.00,172.87 453.70,180.20 C451.40,187.53 445.82,205.70 441.30,220.00 C436.78,234.30 430.15,253.50 426.60,266.00 C423.05,278.50 421.58,287.28 420.00,295.00 C418.42,302.72 417.58,307.98 417.10,312.30 C416.62,316.62 416.62,318.52 417.10,320.90 C417.58,323.28 417.85,324.93 420.00,326.60 C422.15,328.27 425.72,329.83 430.00,330.90 C434.28,331.97 439.03,332.35 445.70,333.00 C452.37,333.65 459.28,334.27 470.00,334.80 C480.72,335.33 495.00,335.75 510.00,336.20 C525.00,336.65 551.67,337.28 560.00,337.50 L560.00,417.50 L631.40,417.50 L631.40,99.70 L455.09,99.70 Z" fill="#d3ddf9"/>
<path d="M474.89,176.00 C474.66,176.70 475.86,172.87 473.50,180.20 C471.14,187.53 465.45,205.70 460.70,220.00 C455.95,234.30 448.57,253.50 445.00,266.00 C441.43,278.50 440.62,287.28 439.30,295.00 C437.98,302.72 437.22,307.98 437.10,312.30 C436.98,316.62 437.63,318.62 438.60,320.90 C439.57,323.18 440.28,324.48 442.90,326.00 C445.52,327.52 449.55,328.92 454.30,330.00 C459.05,331.08 463.78,331.73 471.40,332.50 C479.02,333.27 490.23,334.05 500.00,334.60 C509.77,335.15 520.00,335.43 530.00,335.80 C540.00,336.17 555.00,336.63 560.00,336.80 L631.40,336.80 L631.40,99.70 L474.89,99.70 Z" fill="#c4d1f7"/>
<path d="M491.29,176.00 C491.06,176.70 492.36,172.87 489.90,180.20 C487.44,187.53 480.98,205.70 476.50,220.00 C472.02,234.30 466.23,253.50 463.00,266.00 C459.77,278.50 458.28,287.77 457.10,295.00 C455.92,302.23 455.90,305.57 455.90,309.40 C455.90,313.23 455.93,315.52 457.10,318.00 C458.27,320.48 460.03,322.48 462.90,324.30 C465.77,326.12 469.07,327.63 474.30,328.90 C479.53,330.17 486.68,331.05 494.30,331.90 C501.92,332.75 509.05,333.35 520.00,334.00 C530.95,334.65 553.33,335.50 560.00,335.80 L631.40,335.80 L631.40,99.70 L491.29,99.70 Z" fill="#aec8f3"/>
<path d="M507.79,176.00 C507.56,176.70 509.25,172.87 506.40,180.20 C503.55,187.53 495.68,205.70 490.70,220.00 C485.72,234.30 479.67,253.50 476.50,266.00 C473.33,278.50 472.55,287.47 471.70,295.00 C470.85,302.53 470.98,306.88 471.40,311.20 C471.82,315.52 472.10,318.23 474.20,320.90 C476.30,323.57 478.88,325.42 484.00,327.20 C489.12,328.98 496.77,330.37 504.90,331.60 C513.03,332.83 525.05,333.90 532.80,334.60 C540.55,335.30 546.87,335.52 551.40,335.80 C555.93,336.08 558.57,336.22 560.00,336.30 L631.40,336.30 L631.40,99.70 L507.79,99.70 Z" fill="#8fb9ec"/>
<path d="M521.99,176.00 C521.75,176.70 523.33,172.87 520.60,180.20 C517.87,187.53 510.58,205.70 505.60,220.00 C500.62,234.30 493.85,253.50 490.70,266.00 C487.55,278.50 487.33,287.93 486.70,295.00 C486.07,302.07 486.20,304.55 486.90,308.40 C487.60,312.25 488.38,315.40 490.90,318.10 C493.42,320.80 497.82,322.82 502.00,324.60 C506.18,326.38 510.83,327.77 516.00,328.80 C521.17,329.83 527.10,330.27 533.00,330.80 C538.90,331.33 546.90,331.72 551.40,332.00 C555.90,332.28 558.57,332.42 560.00,332.50 L631.40,332.50 L631.40,99.70 L521.99,99.70 Z" fill="#6aa8e4"/>
<path d="M536.89,176.00 C536.65,176.70 538.46,172.87 535.50,180.20 C532.54,187.53 524.25,205.70 519.10,220.00 C513.95,234.30 507.62,253.50 504.60,266.00 C501.58,278.50 501.50,288.17 501.00,295.00 C500.50,301.83 501.02,303.83 501.60,307.00 C502.18,310.17 503.10,311.92 504.50,314.00 C505.90,316.08 508.08,317.92 510.00,319.50 C511.92,321.08 513.18,322.42 516.00,323.50 C518.82,324.58 523.25,325.22 526.90,326.00 C530.55,326.78 533.82,327.65 537.90,328.20 C541.98,328.75 547.72,329.03 551.40,329.30 C555.08,329.57 558.57,329.72 560.00,329.80 L631.40,329.80 L631.40,99.70 L536.89,99.70 Z" fill="#4a9ddc"/>
<path d="M550.39,176.00 C550.15,176.70 551.73,172.87 549.00,180.20 C546.27,187.53 539.12,205.70 534.00,220.00 C528.88,234.30 521.42,253.50 518.30,266.00 C515.18,278.50 515.75,288.83 515.30,295.00 C514.85,301.17 515.22,300.27 515.60,303.00 C515.98,305.73 515.72,308.92 517.60,311.40 C519.48,313.88 523.52,316.10 526.90,317.90 C530.28,319.70 533.82,320.93 537.90,322.20 C541.98,323.47 547.72,324.70 551.40,325.50 C555.08,326.30 558.57,326.75 560.00,327.00 L631.40,327.00 L631.40,99.70 L550.39,99.70 Z" fill="#2f90d4"/>
<path d="M563.39,176.00 C563.15,176.70 564.78,172.87 562.00,180.20 C559.22,187.53 551.62,205.70 546.70,220.00 C541.78,234.30 535.72,253.50 532.50,266.00 C529.28,278.50 528.05,288.83 527.40,295.00 C526.75,301.17 527.77,300.47 528.60,303.00 C529.43,305.53 530.50,308.00 532.40,310.20 C534.30,312.40 536.83,314.57 540.00,316.20 C543.17,317.83 548.07,319.03 551.40,320.00 C554.73,320.97 558.57,321.67 560.00,322.00 L631.40,322.00 L631.40,99.70 L563.39,99.70 Z" fill="#1a86c8"/>
<path d="M579.39,176.00 C579.15,176.70 580.90,172.87 578.00,180.20 C575.10,187.53 567.47,205.70 562.00,220.00 C556.53,234.30 548.70,253.50 545.20,266.00 C541.70,278.50 541.50,289.08 541.00,295.00 C540.50,300.92 541.45,299.33 542.20,301.50 C542.95,303.67 543.97,306.18 545.50,308.00 C547.03,309.82 548.98,311.07 551.40,312.40 C553.82,313.73 558.57,315.40 560.00,316.00 L631.40,316.00 L631.40,99.70 L579.39,99.70 Z" fill="#1272b8"/>
<path d="M434.29,176.00 C434.06,176.70 435.26,172.87 432.90,180.20 C430.54,187.53 424.68,205.70 420.10,220.00 C415.52,234.30 409.27,253.50 405.40,266.00 C401.53,278.50 398.85,287.28 396.90,295.00 C394.95,302.72 394.47,307.80 393.70,312.30 C392.93,316.80 392.35,319.38 392.30,322.00 C392.25,324.62 392.35,326.38 393.40,328.00 C394.45,329.62 396.07,330.72 398.60,331.70 C401.13,332.68 403.37,333.25 408.60,333.90 C413.83,334.55 419.77,335.08 430.00,335.60 C440.23,336.12 455.00,336.60 470.00,337.00 C485.00,337.40 505.00,337.67 520.00,338.00 C535.00,338.33 553.33,338.83 560.00,339.00" fill="none" stroke="rgba(0,0,0,0.5)" stroke-width="0.55"/>
<path d="M455.09,176.00 C454.86,176.70 456.00,172.87 453.70,180.20 C451.40,187.53 445.82,205.70 441.30,220.00 C436.78,234.30 430.15,253.50 426.60,266.00 C423.05,278.50 421.58,287.28 420.00,295.00 C418.42,302.72 417.58,307.98 417.10,312.30 C416.62,316.62 416.62,318.52 417.10,320.90 C417.58,323.28 417.85,324.93 420.00,326.60 C422.15,328.27 425.72,329.83 430.00,330.90 C434.28,331.97 439.03,332.35 445.70,333.00 C452.37,333.65 459.28,334.27 470.00,334.80 C480.72,335.33 495.00,335.75 510.00,336.20 C525.00,336.65 551.67,337.28 560.00,337.50" fill="none" stroke="rgba(0,0,0,0.5)" stroke-width="0.55"/>
<path d="M474.89,176.00 C474.66,176.70 475.86,172.87 473.50,180.20 C471.14,187.53 465.45,205.70 460.70,220.00 C455.95,234.30 448.57,253.50 445.00,266.00 C441.43,278.50 440.62,287.28 439.30,295.00 C437.98,302.72 437.22,307.98 437.10,312.30 C436.98,316.62 437.63,318.62 438.60,320.90 C439.57,323.18 440.28,324.48 442.90,326.00 C445.52,327.52 449.55,328.92 454.30,330.00 C459.05,331.08 463.78,331.73 471.40,332.50 C479.02,333.27 490.23,334.05 500.00,334.60 C509.77,335.15 520.00,335.43 530.00,335.80 C540.00,336.17 555.00,336.63 560.00,336.80" fill="none" stroke="rgba(0,0,0,0.5)" stroke-width="0.55"/>
<path d="M491.29,176.00 C491.06,176.70 492.36,172.87 489.90,180.20 C487.44,187.53 480.98,205.70 476.50,220.00 C472.02,234.30 466.23,253.50 463.00,266.00 C459.77,278.50 458.28,287.77 457.10,295.00 C455.92,302.23 455.90,305.57 455.90,309.40 C455.90,313.23 455.93,315.52 457.10,318.00 C458.27,320.48 460.03,322.48 462.90,324.30 C465.77,326.12 469.07,327.63 474.30,328.90 C479.53,330.17 486.68,331.05 494.30,331.90 C501.92,332.75 509.05,333.35 520.00,334.00 C530.95,334.65 553.33,335.50 560.00,335.80" fill="none" stroke="rgba(0,0,0,0.5)" stroke-width="0.55"/>
<path d="M507.79,176.00 C507.56,176.70 509.25,172.87 506.40,180.20 C503.55,187.53 495.68,205.70 490.70,220.00 C485.72,234.30 479.67,253.50 476.50,266.00 C473.33,278.50 472.55,287.47 471.70,295.00 C470.85,302.53 470.98,306.88 471.40,311.20 C471.82,315.52 472.10,318.23 474.20,320.90 C476.30,323.57 478.88,325.42 484.00,327.20 C489.12,328.98 496.77,330.37 504.90,331.60 C513.03,332.83 525.05,333.90 532.80,334.60 C540.55,335.30 546.87,335.52 551.40,335.80 C555.93,336.08 558.57,336.22 560.00,336.30" fill="none" stroke="rgba(0,0,0,0.5)" stroke-width="0.55"/>
<path d="M521.99,176.00 C521.75,176.70 523.33,172.87 520.60,180.20 C517.87,187.53 510.58,205.70 505.60,220.00 C500.62,234.30 493.85,253.50 490.70,266.00 C487.55,278.50 487.33,287.93 486.70,295.00 C486.07,302.07 486.20,304.55 486.90,308.40 C487.60,312.25 488.38,315.40 490.90,318.10 C493.42,320.80 497.82,322.82 502.00,324.60 C506.18,326.38 510.83,327.77 516.00,328.80 C521.17,329.83 527.10,330.27 533.00,330.80 C538.90,331.33 546.90,331.72 551.40,332.00 C555.90,332.28 558.57,332.42 560.00,332.50" fill="none" stroke="rgba(0,0,0,0.5)" stroke-width="0.55"/>
<path d="M536.89,176.00 C536.65,176.70 538.46,172.87 535.50,180.20 C532.54,187.53 524.25,205.70 519.10,220.00 C513.95,234.30 507.62,253.50 504.60,266.00 C501.58,278.50 501.50,288.17 501.00,295.00 C500.50,301.83 501.02,303.83 501.60,307.00 C502.18,310.17 503.10,311.92 504.50,314.00 C505.90,316.08 508.08,317.92 510.00,319.50 C511.92,321.08 513.18,322.42 516.00,323.50 C518.82,324.58 523.25,325.22 526.90,326.00 C530.55,326.78 533.82,327.65 537.90,328.20 C541.98,328.75 547.72,329.03 551.40,329.30 C555.08,329.57 558.57,329.72 560.00,329.80" fill="none" stroke="rgba(0,0,0,0.5)" stroke-width="0.55"/>
<path d="M550.39,176.00 C550.15,176.70 551.73,172.87 549.00,180.20 C546.27,187.53 539.12,205.70 534.00,220.00 C528.88,234.30 521.42,253.50 518.30,266.00 C515.18,278.50 515.75,288.83 515.30,295.00 C514.85,301.17 515.22,300.27 515.60,303.00 C515.98,305.73 515.72,308.92 517.60,311.40 C519.48,313.88 523.52,316.10 526.90,317.90 C530.28,319.70 533.82,320.93 537.90,322.20 C541.98,323.47 547.72,324.70 551.40,325.50 C555.08,326.30 558.57,326.75 560.00,327.00" fill="none" stroke="rgba(0,0,0,0.5)" stroke-width="0.55"/>
<path d="M563.39,176.00 C563.15,176.70 564.78,172.87 562.00,180.20 C559.22,187.53 551.62,205.70 546.70,220.00 C541.78,234.30 535.72,253.50 532.50,266.00 C529.28,278.50 528.05,288.83 527.40,295.00 C526.75,301.17 527.77,300.47 528.60,303.00 C529.43,305.53 530.50,308.00 532.40,310.20 C534.30,312.40 536.83,314.57 540.00,316.20 C543.17,317.83 548.07,319.03 551.40,320.00 C554.73,320.97 558.57,321.67 560.00,322.00" fill="none" stroke="rgba(0,0,0,0.5)" stroke-width="0.55"/>
<path d="M579.39,176.00 C579.15,176.70 580.90,172.87 578.00,180.20 C575.10,187.53 567.47,205.70 562.00,220.00 C556.53,234.30 548.70,253.50 545.20,266.00 C541.70,278.50 541.50,289.08 541.00,295.00 C540.50,300.92 541.45,299.33 542.20,301.50 C542.95,303.67 543.97,306.18 545.50,308.00 C547.03,309.82 548.98,311.07 551.40,312.40 C553.82,313.73 558.57,315.40 560.00,316.00" fill="none" stroke="rgba(0,0,0,0.5)" stroke-width="0.55"/>
<path d="M407.90,176.00 C407.67,176.70 408.95,172.87 406.50,180.20 C404.05,187.53 396.70,209.87 393.20,220.00 C389.70,230.13 387.63,234.33 385.50,241.00 C383.37,247.67 381.57,255.83 380.40,260.00 C379.23,264.17 378.82,265.00 378.50,266.00" fill="none" stroke="#e0303a" stroke-width="0.9"/>
</g>
<line x1="73.30" y1="2.4" x2="73.30" y2="346.5" stroke="rgba(0,0,0,0.5)" stroke-width="1.35" stroke-dasharray="13.4 12.02"/>
<line x1="107.40" y1="2.4" x2="107.40" y2="346.5" stroke="rgba(0,0,0,0.5)" stroke-width="1.35" stroke-dasharray="13.4 12.02"/>
<line x1="141.50" y1="2.4" x2="141.50" y2="346.5" stroke="rgba(0,0,0,0.5)" stroke-width="1.35" stroke-dasharray="13.4 12.02"/>
<line x1="175.60" y1="2.4" x2="175.60" y2="346.5" stroke="rgba(0,0,0,0.5)" stroke-width="1.35" stroke-dasharray="13.4 12.02"/>
<line x1="244.45" y1="2.4" x2="244.45" y2="346.5" stroke="rgba(0,0,0,0.5)" stroke-width="1.35" stroke-dasharray="13.4 12.02"/>
<line x1="278.74" y1="2.4" x2="278.74" y2="346.5" stroke="rgba(0,0,0,0.5)" stroke-width="1.35" stroke-dasharray="13.4 12.02"/>
<line x1="313.03" y1="2.4" x2="313.03" y2="346.5" stroke="rgba(0,0,0,0.5)" stroke-width="1.35" stroke-dasharray="13.4 12.02"/>
<line x1="347.32" y1="2.4" x2="347.32" y2="346.5" stroke="rgba(0,0,0,0.5)" stroke-width="1.35" stroke-dasharray="13.4 12.02"/>
<line x1="414.40" y1="2.4" x2="414.40" y2="346.5" stroke="rgba(0,0,0,0.5)" stroke-width="1.35" stroke-dasharray="13.4 12.02"/>
<line x1="448.50" y1="2.4" x2="448.50" y2="346.5" stroke="rgba(0,0,0,0.5)" stroke-width="1.35" stroke-dasharray="13.4 12.02"/>
<line x1="482.60" y1="2.4" x2="482.60" y2="346.5" stroke="rgba(0,0,0,0.5)" stroke-width="1.35" stroke-dasharray="13.4 12.02"/>
<line x1="516.70" y1="2.4" x2="516.70" y2="346.5" stroke="rgba(0,0,0,0.5)" stroke-width="1.35" stroke-dasharray="13.4 12.02"/>
<line x1="9" y1="175.9" x2="588" y2="175.9" stroke="#a4a4a4" stroke-width="1.5" stroke-dasharray="13.7 13.2"/>
<path d="M38.70,170.80 L38.70,14.30 L209.40,14.30 L209.40,170.80" fill="none" stroke="#333333" stroke-width="0.9"/>
<line x1="38.70" y1="14.90" x2="40.50" y2="14.90" stroke="#2b2b2b" stroke-width="0.9"/>
<line x1="207.60" y1="11.90" x2="209.40" y2="11.90" stroke="#2b2b2b" stroke-width="0.9"/>
<line x1="38.70" y1="35.31" x2="40.50" y2="35.31" stroke="#2b2b2b" stroke-width="0.9"/>
<line x1="207.60" y1="32.31" x2="209.40" y2="32.31" stroke="#2b2b2b" stroke-width="0.9"/>
<line x1="38.70" y1="55.72" x2="40.50" y2="55.72" stroke="#2b2b2b" stroke-width="0.9"/>
<line x1="207.60" y1="52.72" x2="209.40" y2="52.72" stroke="#2b2b2b" stroke-width="0.9"/>
<line x1="38.70" y1="76.13" x2="40.50" y2="76.13" stroke="#2b2b2b" stroke-width="0.9"/>
<line x1="207.60" y1="73.13" x2="209.40" y2="73.13" stroke="#2b2b2b" stroke-width="0.9"/>
<line x1="38.70" y1="96.54" x2="40.50" y2="96.54" stroke="#2b2b2b" stroke-width="0.9"/>
<line x1="207.60" y1="93.54" x2="209.40" y2="93.54" stroke="#2b2b2b" stroke-width="0.9"/>
<line x1="38.70" y1="116.95" x2="40.50" y2="116.95" stroke="#2b2b2b" stroke-width="0.9"/>
<line x1="207.60" y1="113.95" x2="209.40" y2="113.95" stroke="#2b2b2b" stroke-width="0.9"/>
<line x1="38.70" y1="137.36" x2="40.50" y2="137.36" stroke="#2b2b2b" stroke-width="0.9"/>
<line x1="207.60" y1="134.36" x2="209.40" y2="134.36" stroke="#2b2b2b" stroke-width="0.9"/>
<line x1="38.70" y1="157.77" x2="40.50" y2="157.77" stroke="#2b2b2b" stroke-width="0.9"/>
<line x1="207.60" y1="154.77" x2="209.40" y2="154.77" stroke="#2b2b2b" stroke-width="0.9"/>
<line x1="56.25" y1="14.30" x2="56.25" y2="16.20" stroke="#2b2b2b" stroke-width="0.9"/>
<line x1="90.35" y1="14.30" x2="90.35" y2="16.20" stroke="#2b2b2b" stroke-width="0.9"/>
<line x1="124.45" y1="14.30" x2="124.45" y2="16.20" stroke="#2b2b2b" stroke-width="0.9"/>
<line x1="158.55" y1="14.30" x2="158.55" y2="16.20" stroke="#2b2b2b" stroke-width="0.9"/>
<line x1="192.65" y1="14.30" x2="192.65" y2="16.20" stroke="#2b2b2b" stroke-width="0.9"/>
<path d="M209.40,170.80 L209.40,14.30 L380.20,14.30 L380.20,170.80" fill="none" stroke="#333333" stroke-width="0.9"/>
<line x1="209.40" y1="14.90" x2="211.20" y2="14.90" stroke="#2b2b2b" stroke-width="0.9"/>
<line x1="378.40" y1="11.90" x2="380.20" y2="11.90" stroke="#2b2b2b" stroke-width="0.9"/>
<line x1="209.40" y1="35.31" x2="211.20" y2="35.31" stroke="#2b2b2b" stroke-width="0.9"/>
<line x1="378.40" y1="32.31" x2="380.20" y2="32.31" stroke="#2b2b2b" stroke-width="0.9"/>
<line x1="209.40" y1="55.72" x2="211.20" y2="55.72" stroke="#2b2b2b" stroke-width="0.9"/>
<line x1="378.40" y1="52.72" x2="380.20" y2="52.72" stroke="#2b2b2b" stroke-width="0.9"/>
<line x1="209.40" y1="76.13" x2="211.20" y2="76.13" stroke="#2b2b2b" stroke-width="0.9"/>
<line x1="378.40" y1="73.13" x2="380.20" y2="73.13" stroke="#2b2b2b" stroke-width="0.9"/>
<line x1="209.40" y1="96.54" x2="211.20" y2="96.54" stroke="#2b2b2b" stroke-width="0.9"/>
<line x1="378.40" y1="93.54" x2="380.20" y2="93.54" stroke="#2b2b2b" stroke-width="0.9"/>
<line x1="209.40" y1="116.95" x2="211.20" y2="116.95" stroke="#2b2b2b" stroke-width="0.9"/>
<line x1="378.40" y1="113.95" x2="380.20" y2="113.95" stroke="#2b2b2b" stroke-width="0.9"/>
<line x1="209.40" y1="137.36" x2="211.20" y2="137.36" stroke="#2b2b2b" stroke-width="0.9"/>
<line x1="378.40" y1="134.36" x2="380.20" y2="134.36" stroke="#2b2b2b" stroke-width="0.9"/>
<line x1="209.40" y1="157.77" x2="211.20" y2="157.77" stroke="#2b2b2b" stroke-width="0.9"/>
<line x1="378.40" y1="154.77" x2="380.20" y2="154.77" stroke="#2b2b2b" stroke-width="0.9"/>
<line x1="227.31" y1="14.30" x2="227.31" y2="16.20" stroke="#2b2b2b" stroke-width="0.9"/>
<line x1="261.60" y1="14.30" x2="261.60" y2="16.20" stroke="#2b2b2b" stroke-width="0.9"/>
<line x1="295.88" y1="14.30" x2="295.88" y2="16.20" stroke="#2b2b2b" stroke-width="0.9"/>
<line x1="330.18" y1="14.30" x2="330.18" y2="16.20" stroke="#2b2b2b" stroke-width="0.9"/>
<line x1="364.47" y1="14.30" x2="364.47" y2="16.20" stroke="#2b2b2b" stroke-width="0.9"/>
<path d="M380.20,170.80 L380.20,14.30 L551.30,14.30 L551.30,170.80" fill="none" stroke="#333333" stroke-width="0.9"/>
<line x1="380.20" y1="14.90" x2="382.00" y2="14.90" stroke="#2b2b2b" stroke-width="0.9"/>
<line x1="549.50" y1="11.90" x2="551.30" y2="11.90" stroke="#2b2b2b" stroke-width="0.9"/>
<line x1="380.20" y1="35.31" x2="382.00" y2="35.31" stroke="#2b2b2b" stroke-width="0.9"/>
<line x1="549.50" y1="32.31" x2="551.30" y2="32.31" stroke="#2b2b2b" stroke-width="0.9"/>
<line x1="380.20" y1="55.72" x2="382.00" y2="55.72" stroke="#2b2b2b" stroke-width="0.9"/>
<line x1="549.50" y1="52.72" x2="551.30" y2="52.72" stroke="#2b2b2b" stroke-width="0.9"/>
<line x1="380.20" y1="76.13" x2="382.00" y2="76.13" stroke="#2b2b2b" stroke-width="0.9"/>
<line x1="549.50" y1="73.13" x2="551.30" y2="73.13" stroke="#2b2b2b" stroke-width="0.9"/>
<line x1="380.20" y1="96.54" x2="382.00" y2="96.54" stroke="#2b2b2b" stroke-width="0.9"/>
<line x1="549.50" y1="93.54" x2="551.30" y2="93.54" stroke="#2b2b2b" stroke-width="0.9"/>
<line x1="380.20" y1="116.95" x2="382.00" y2="116.95" stroke="#2b2b2b" stroke-width="0.9"/>
<line x1="549.50" y1="113.95" x2="551.30" y2="113.95" stroke="#2b2b2b" stroke-width="0.9"/>
<line x1="380.20" y1="137.36" x2="382.00" y2="137.36" stroke="#2b2b2b" stroke-width="0.9"/>
<line x1="549.50" y1="134.36" x2="551.30" y2="134.36" stroke="#2b2b2b" stroke-width="0.9"/>
<line x1="380.20" y1="157.77" x2="382.00" y2="157.77" stroke="#2b2b2b" stroke-width="0.9"/>
<line x1="549.50" y1="154.77" x2="551.30" y2="154.77" stroke="#2b2b2b" stroke-width="0.9"/>
<line x1="397.35" y1="14.30" x2="397.35" y2="16.20" stroke="#2b2b2b" stroke-width="0.9"/>
<line x1="431.45" y1="14.30" x2="431.45" y2="16.20" stroke="#2b2b2b" stroke-width="0.9"/>
<line x1="465.55" y1="14.30" x2="465.55" y2="16.20" stroke="#2b2b2b" stroke-width="0.9"/>
<line x1="499.65" y1="14.30" x2="499.65" y2="16.20" stroke="#2b2b2b" stroke-width="0.9"/>
<line x1="533.75" y1="14.30" x2="533.75" y2="16.20" stroke="#2b2b2b" stroke-width="0.9"/>
<path d="M39.20,337.50 L39.20,179.70 M210.20,179.70 L210.20,337.50" fill="none" stroke="#333333" stroke-width="0.9"/>
<line x1="39.20" y1="179.70" x2="210.20" y2="179.70" stroke="rgba(0,0,0,0.4)" stroke-width="0.7"/>
<line x1="39.20" y1="180.30" x2="41.00" y2="180.30" stroke="#2b2b2b" stroke-width="0.9"/>
<line x1="208.40" y1="177.30" x2="210.20" y2="177.30" stroke="#2b2b2b" stroke-width="0.9"/>
<line x1="39.20" y1="200.75" x2="41.00" y2="200.75" stroke="#2b2b2b" stroke-width="0.9"/>
<line x1="208.40" y1="197.75" x2="210.20" y2="197.75" stroke="#2b2b2b" stroke-width="0.9"/>
<line x1="39.20" y1="221.20" x2="41.00" y2="221.20" stroke="#2b2b2b" stroke-width="0.9"/>
<line x1="208.40" y1="218.20" x2="210.20" y2="218.20" stroke="#2b2b2b" stroke-width="0.9"/>
<line x1="39.20" y1="241.65" x2="41.00" y2="241.65" stroke="#2b2b2b" stroke-width="0.9"/>
<line x1="208.40" y1="238.65" x2="210.20" y2="238.65" stroke="#2b2b2b" stroke-width="0.9"/>
<line x1="39.20" y1="262.10" x2="41.00" y2="262.10" stroke="#2b2b2b" stroke-width="0.9"/>
<line x1="208.40" y1="259.10" x2="210.20" y2="259.10" stroke="#2b2b2b" stroke-width="0.9"/>
<line x1="39.20" y1="282.55" x2="41.00" y2="282.55" stroke="#2b2b2b" stroke-width="0.9"/>
<line x1="208.40" y1="279.55" x2="210.20" y2="279.55" stroke="#2b2b2b" stroke-width="0.9"/>
<line x1="39.20" y1="303.00" x2="41.00" y2="303.00" stroke="#2b2b2b" stroke-width="0.9"/>
<line x1="208.40" y1="300.00" x2="210.20" y2="300.00" stroke="#2b2b2b" stroke-width="0.9"/>
<line x1="39.20" y1="323.45" x2="41.00" y2="323.45" stroke="#2b2b2b" stroke-width="0.9"/>
<line x1="208.40" y1="320.45" x2="210.20" y2="320.45" stroke="#2b2b2b" stroke-width="0.9"/>
<line x1="56.25" y1="179.70" x2="56.25" y2="181.60" stroke="#2b2b2b" stroke-width="0.9"/>
<line x1="90.35" y1="179.70" x2="90.35" y2="181.60" stroke="#2b2b2b" stroke-width="0.9"/>
<line x1="124.45" y1="179.70" x2="124.45" y2="181.60" stroke="#2b2b2b" stroke-width="0.9"/>
<line x1="158.55" y1="179.70" x2="158.55" y2="181.60" stroke="#2b2b2b" stroke-width="0.9"/>
<line x1="192.65" y1="179.70" x2="192.65" y2="181.60" stroke="#2b2b2b" stroke-width="0.9"/>
<path d="M210.40,337.50 L210.40,179.70 M380.40,179.70 L380.40,337.50" fill="none" stroke="#333333" stroke-width="0.9"/>
<line x1="210.40" y1="179.70" x2="380.40" y2="179.70" stroke="rgba(0,0,0,0.4)" stroke-width="0.7"/>
<line x1="228.00" y1="336.90" x2="380.40" y2="336.90" stroke="rgba(0,0,0,0.45)" stroke-width="0.8" stroke-dasharray="2 1"/>
<line x1="227.31" y1="335.50" x2="227.31" y2="337.50" stroke="#2b2b2b" stroke-width="0.9"/>
<line x1="261.60" y1="335.50" x2="261.60" y2="337.50" stroke="#2b2b2b" stroke-width="0.9"/>
<line x1="295.88" y1="335.50" x2="295.88" y2="337.50" stroke="#2b2b2b" stroke-width="0.9"/>
<line x1="330.18" y1="335.50" x2="330.18" y2="337.50" stroke="#2b2b2b" stroke-width="0.9"/>
<line x1="364.47" y1="335.50" x2="364.47" y2="337.50" stroke="#2b2b2b" stroke-width="0.9"/>
<line x1="210.40" y1="180.30" x2="212.20" y2="180.30" stroke="#2b2b2b" stroke-width="0.9"/>
<line x1="378.60" y1="177.30" x2="380.40" y2="177.30" stroke="#2b2b2b" stroke-width="0.9"/>
<line x1="210.40" y1="200.75" x2="212.20" y2="200.75" stroke="#2b2b2b" stroke-width="0.9"/>
<line x1="378.60" y1="197.75" x2="380.40" y2="197.75" stroke="#2b2b2b" stroke-width="0.9"/>
<line x1="210.40" y1="221.20" x2="212.20" y2="221.20" stroke="#2b2b2b" stroke-width="0.9"/>
<line x1="378.60" y1="218.20" x2="380.40" y2="218.20" stroke="#2b2b2b" stroke-width="0.9"/>
<line x1="210.40" y1="241.65" x2="212.20" y2="241.65" stroke="#2b2b2b" stroke-width="0.9"/>
<line x1="378.60" y1="238.65" x2="380.40" y2="238.65" stroke="#2b2b2b" stroke-width="0.9"/>
<line x1="210.40" y1="262.10" x2="212.20" y2="262.10" stroke="#2b2b2b" stroke-width="0.9"/>
<line x1="378.60" y1="259.10" x2="380.40" y2="259.10" stroke="#2b2b2b" stroke-width="0.9"/>
<line x1="210.40" y1="282.55" x2="212.20" y2="282.55" stroke="#2b2b2b" stroke-width="0.9"/>
<line x1="378.60" y1="279.55" x2="380.40" y2="279.55" stroke="#2b2b2b" stroke-width="0.9"/>
<line x1="210.40" y1="303.00" x2="212.20" y2="303.00" stroke="#2b2b2b" stroke-width="0.9"/>
<line x1="378.60" y1="300.00" x2="380.40" y2="300.00" stroke="#2b2b2b" stroke-width="0.9"/>
<line x1="210.40" y1="323.45" x2="212.20" y2="323.45" stroke="#2b2b2b" stroke-width="0.9"/>
<line x1="378.60" y1="320.45" x2="380.40" y2="320.45" stroke="#2b2b2b" stroke-width="0.9"/>
<line x1="227.31" y1="179.70" x2="227.31" y2="181.60" stroke="#2b2b2b" stroke-width="0.9"/>
<line x1="261.60" y1="179.70" x2="261.60" y2="181.60" stroke="#2b2b2b" stroke-width="0.9"/>
<line x1="295.88" y1="179.70" x2="295.88" y2="181.60" stroke="#2b2b2b" stroke-width="0.9"/>
<line x1="330.18" y1="179.70" x2="330.18" y2="181.60" stroke="#2b2b2b" stroke-width="0.9"/>
<line x1="364.47" y1="179.70" x2="364.47" y2="181.60" stroke="#2b2b2b" stroke-width="0.9"/>
<path d="M380.40,337.50 L380.40,179.70 M551.40,179.70 L551.40,337.50" fill="none" stroke="#333333" stroke-width="0.9"/>
<line x1="380.40" y1="179.70" x2="551.40" y2="179.70" stroke="rgba(0,0,0,0.4)" stroke-width="0.7"/>
<line x1="392.00" y1="336.90" x2="551.40" y2="336.90" stroke="rgba(0,0,0,0.45)" stroke-width="0.8" stroke-dasharray="2 1"/>
<line x1="397.35" y1="335.50" x2="397.35" y2="337.50" stroke="#2b2b2b" stroke-width="0.9"/>
<line x1="431.45" y1="335.50" x2="431.45" y2="337.50" stroke="#2b2b2b" stroke-width="0.9"/>
<line x1="465.55" y1="335.50" x2="465.55" y2="337.50" stroke="#2b2b2b" stroke-width="0.9"/>
<line x1="499.65" y1="335.50" x2="499.65" y2="337.50" stroke="#2b2b2b" stroke-width="0.9"/>
<line x1="533.75" y1="335.50" x2="533.75" y2="337.50" stroke="#2b2b2b" stroke-width="0.9"/>
<line x1="380.40" y1="180.30" x2="382.20" y2="180.30" stroke="#2b2b2b" stroke-width="0.9"/>
<line x1="549.60" y1="177.30" x2="551.40" y2="177.30" stroke="#2b2b2b" stroke-width="0.9"/>
<line x1="380.40" y1="200.75" x2="382.20" y2="200.75" stroke="#2b2b2b" stroke-width="0.9"/>
<line x1="549.60" y1="197.75" x2="551.40" y2="197.75" stroke="#2b2b2b" stroke-width="0.9"/>
<line x1="380.40" y1="221.20" x2="382.20" y2="221.20" stroke="#2b2b2b" stroke-width="0.9"/>
<line x1="549.60" y1="218.20" x2="551.40" y2="218.20" stroke="#2b2b2b" stroke-width="0.9"/>
<line x1="380.40" y1="241.65" x2="382.20" y2="241.65" stroke="#2b2b2b" stroke-width="0.9"/>
<line x1="549.60" y1="238.65" x2="551.40" y2="238.65" stroke="#2b2b2b" stroke-width="0.9"/>
<line x1="380.40" y1="262.10" x2="382.20" y2="262.10" stroke="#2b2b2b" stroke-width="0.9"/>
<line x1="549.60" y1="259.10" x2="551.40" y2="259.10" stroke="#2b2b2b" stroke-width="0.9"/>
<line x1="380.40" y1="282.55" x2="382.20" y2="282.55" stroke="#2b2b2b" stroke-width="0.9"/>
<line x1="549.60" y1="279.55" x2="551.40" y2="279.55" stroke="#2b2b2b" stroke-width="0.9"/>
<line x1="380.40" y1="303.00" x2="382.20" y2="303.00" stroke="#2b2b2b" stroke-width="0.9"/>
<line x1="549.60" y1="300.00" x2="551.40" y2="300.00" stroke="#2b2b2b" stroke-width="0.9"/>
<line x1="380.40" y1="323.45" x2="382.20" y2="323.45" stroke="#2b2b2b" stroke-width="0.9"/>
<line x1="549.60" y1="320.45" x2="551.40" y2="320.45" stroke="#2b2b2b" stroke-width="0.9"/>
<line x1="397.35" y1="179.70" x2="397.35" y2="181.60" stroke="#2b2b2b" stroke-width="0.9"/>
<line x1="431.45" y1="179.70" x2="431.45" y2="181.60" stroke="#2b2b2b" stroke-width="0.9"/>
<line x1="465.55" y1="179.70" x2="465.55" y2="181.60" stroke="#2b2b2b" stroke-width="0.9"/>
<line x1="499.65" y1="179.70" x2="499.65" y2="181.60" stroke="#2b2b2b" stroke-width="0.9"/>
<line x1="533.75" y1="179.70" x2="533.75" y2="181.60" stroke="#2b2b2b" stroke-width="0.9"/>
<defs><linearGradient id="gU" x1="0" y1="0" x2="0" y2="1"><stop offset="0.0000" stop-color="#ffffff"/><stop offset="0.1000" stop-color="#e6ebfb"/><stop offset="0.2000" stop-color="#d4ddf9"/><stop offset="0.3000" stop-color="#b9cbf5"/><stop offset="0.4000" stop-color="#93b6ec"/><stop offset="0.5000" stop-color="#5c9fe2"/><stop offset="0.6000" stop-color="#2686ce"/><stop offset="0.7000" stop-color="#1470b6"/><stop offset="0.8000" stop-color="#0d589f"/><stop offset="0.9000" stop-color="#0b448e"/><stop offset="1.0000" stop-color="#08306b"/></linearGradient><linearGradient id="gL" x1="0" y1="0" x2="0" y2="1"><stop offset="0.0000" stop-color="#ffffff"/><stop offset="0.1429" stop-color="#e2e8fb"/><stop offset="0.2857" stop-color="#c4d1f7"/><stop offset="0.4286" stop-color="#8fb9ec"/><stop offset="0.5714" stop-color="#4a9ddc"/><stop offset="0.7143" stop-color="#1a82c8"/><stop offset="0.8571" stop-color="#0c56a0"/><stop offset="1.0000" stop-color="#08306b"/></linearGradient></defs>
<rect x="557.20" y="23.30" width="9.80" height="140.10" fill="url(#gU)"/>
<line x1="557.20" y1="37.31" x2="567.00" y2="37.31" stroke="rgba(0,0,0,0.35)" stroke-width="0.6"/>
<line x1="557.20" y1="51.32" x2="567.00" y2="51.32" stroke="rgba(0,0,0,0.35)" stroke-width="0.6"/>
<line x1="557.20" y1="65.33" x2="567.00" y2="65.33" stroke="rgba(0,0,0,0.35)" stroke-width="0.6"/>
<line x1="557.20" y1="79.34" x2="567.00" y2="79.34" stroke="rgba(0,0,0,0.35)" stroke-width="0.6"/>
<line x1="557.20" y1="93.35" x2="567.00" y2="93.35" stroke="rgba(0,0,0,0.35)" stroke-width="0.6"/>
<line x1="557.20" y1="107.36" x2="567.00" y2="107.36" stroke="rgba(0,0,0,0.35)" stroke-width="0.6"/>
<line x1="557.20" y1="121.37" x2="567.00" y2="121.37" stroke="rgba(0,0,0,0.35)" stroke-width="0.6"/>
<line x1="557.20" y1="135.38" x2="567.00" y2="135.38" stroke="rgba(0,0,0,0.35)" stroke-width="0.6"/>
<line x1="557.20" y1="149.39" x2="567.00" y2="149.39" stroke="rgba(0,0,0,0.35)" stroke-width="0.6"/>
<rect x="557.20" y="23.30" width="9.80" height="140.10" fill="none" stroke="#6a6a6a" stroke-width="0.9"/>
<line x1="565.40" y1="23.30" x2="567.40" y2="23.30" stroke="#555" stroke-width="0.7"/>
<line x1="565.40" y1="37.31" x2="567.40" y2="37.31" stroke="#555" stroke-width="0.7"/>
<line x1="565.40" y1="51.32" x2="567.40" y2="51.32" stroke="#555" stroke-width="0.7"/>
<line x1="565.40" y1="65.33" x2="567.40" y2="65.33" stroke="#555" stroke-width="0.7"/>
<line x1="565.40" y1="79.34" x2="567.40" y2="79.34" stroke="#555" stroke-width="0.7"/>
<line x1="565.40" y1="93.35" x2="567.40" y2="93.35" stroke="#555" stroke-width="0.7"/>
<line x1="565.40" y1="107.36" x2="567.40" y2="107.36" stroke="#555" stroke-width="0.7"/>
<line x1="565.40" y1="121.37" x2="567.40" y2="121.37" stroke="#555" stroke-width="0.7"/>
<line x1="565.40" y1="135.38" x2="567.40" y2="135.38" stroke="#555" stroke-width="0.7"/>
<line x1="565.40" y1="149.39" x2="567.40" y2="149.39" stroke="#555" stroke-width="0.7"/>
<line x1="565.40" y1="163.40" x2="567.40" y2="163.40" stroke="#555" stroke-width="0.7"/>
<rect x="558.60" y="187.00" width="8.40" height="145.40" fill="url(#gL)"/>
<line x1="558.60" y1="197.39" x2="567.00" y2="197.39" stroke="rgba(0,0,0,0.15)" stroke-width="0.6"/>
<line x1="558.60" y1="207.77" x2="567.00" y2="207.77" stroke="rgba(0,0,0,0.35)" stroke-width="0.6"/>
<line x1="558.60" y1="218.16" x2="567.00" y2="218.16" stroke="rgba(0,0,0,0.15)" stroke-width="0.6"/>
<line x1="558.60" y1="228.54" x2="567.00" y2="228.54" stroke="rgba(0,0,0,0.35)" stroke-width="0.6"/>
<line x1="558.60" y1="238.93" x2="567.00" y2="238.93" stroke="rgba(0,0,0,0.15)" stroke-width="0.6"/>
<line x1="558.60" y1="249.31" x2="567.00" y2="249.31" stroke="rgba(0,0,0,0.35)" stroke-width="0.6"/>
<line x1="558.60" y1="259.70" x2="567.00" y2="259.70" stroke="rgba(0,0,0,0.15)" stroke-width="0.6"/>
<line x1="558.60" y1="270.09" x2="567.00" y2="270.09" stroke="rgba(0,0,0,0.35)" stroke-width="0.6"/>
<line x1="558.60" y1="280.47" x2="567.00" y2="280.47" stroke="rgba(0,0,0,0.15)" stroke-width="0.6"/>
<line x1="558.60" y1="290.86" x2="567.00" y2="290.86" stroke="rgba(0,0,0,0.35)" stroke-width="0.6"/>
<line x1="558.60" y1="301.24" x2="567.00" y2="301.24" stroke="rgba(0,0,0,0.15)" stroke-width="0.6"/>
<line x1="558.60" y1="311.63" x2="567.00" y2="311.63" stroke="rgba(0,0,0,0.35)" stroke-width="0.6"/>
<line x1="558.60" y1="322.01" x2="567.00" y2="322.01" stroke="rgba(0,0,0,0.15)" stroke-width="0.6"/>
<rect x="558.60" y="187.00" width="8.40" height="145.40" fill="none" stroke="#6a6a6a" stroke-width="0.9"/>
<line x1="565.40" y1="187.00" x2="567.40" y2="187.00" stroke="#555" stroke-width="0.7"/>
<line x1="565.40" y1="207.77" x2="567.40" y2="207.77" stroke="#555" stroke-width="0.7"/>
<line x1="565.40" y1="228.54" x2="567.40" y2="228.54" stroke="#555" stroke-width="0.7"/>
<line x1="565.40" y1="249.31" x2="567.40" y2="249.31" stroke="#555" stroke-width="0.7"/>
<line x1="565.40" y1="270.09" x2="567.40" y2="270.09" stroke="#555" stroke-width="0.7"/>
<line x1="565.40" y1="290.86" x2="567.40" y2="290.86" stroke="#555" stroke-width="0.7"/>
<line x1="565.40" y1="311.63" x2="567.40" y2="311.63" stroke="#555" stroke-width="0.7"/>
<line x1="565.40" y1="332.40" x2="567.40" y2="332.40" stroke="#555" stroke-width="0.7"/>
<line x1="94.90" y1="33.30" x2="85.30" y2="14.90" stroke="#3a3a3a" stroke-width="0.7"/><line x1="85.30" y1="14.90" x2="88.71" y2="17.83" stroke="#3a3a3a" stroke-width="0.7"/><line x1="85.30" y1="14.90" x2="85.75" y2="19.38" stroke="#3a3a3a" stroke-width="0.7"/>
<line x1="302.80" y1="34.40" x2="293.50" y2="14.90" stroke="#3a3a3a" stroke-width="0.7"/><line x1="293.50" y1="14.90" x2="296.81" y2="17.95" stroke="#3a3a3a" stroke-width="0.7"/><line x1="293.50" y1="14.90" x2="293.79" y2="19.39" stroke="#3a3a3a" stroke-width="0.7"/>
<line x1="489.20" y1="34.60" x2="479.90" y2="15.00" stroke="#3a3a3a" stroke-width="0.7"/><line x1="479.90" y1="15.00" x2="483.20" y2="18.06" stroke="#3a3a3a" stroke-width="0.7"/><line x1="479.90" y1="15.00" x2="480.18" y2="19.49" stroke="#3a3a3a" stroke-width="0.7"/>
<line x1="61.90" y1="192.00" x2="58.40" y2="180.20" stroke="#3a3a3a" stroke-width="0.7"/><line x1="58.40" y1="180.20" x2="61.19" y2="183.73" stroke="#3a3a3a" stroke-width="0.7"/><line x1="58.40" y1="180.20" x2="57.99" y2="184.68" stroke="#3a3a3a" stroke-width="0.7"/>
<line x1="246.00" y1="195.00" x2="244.00" y2="180.50" stroke="#3a3a3a" stroke-width="0.7"/><line x1="244.00" y1="180.50" x2="246.22" y2="184.41" stroke="#3a3a3a" stroke-width="0.7"/><line x1="244.00" y1="180.50" x2="242.92" y2="184.87" stroke="#3a3a3a" stroke-width="0.7"/>
<line x1="409.90" y1="190.00" x2="407.90" y2="180.50" stroke="#3a3a3a" stroke-width="0.7"/><line x1="407.90" y1="180.50" x2="410.39" y2="184.25" stroke="#3a3a3a" stroke-width="0.7"/><line x1="407.90" y1="180.50" x2="407.13" y2="184.93" stroke="#3a3a3a" stroke-width="0.7"/>
</svg>
<svg xmlns="http://www.w3.org/2000/svg" width="602" height="366" viewBox="0 0 602 366" style="position:absolute;left:0;top:0" font-family="Liberation Sans, sans-serif" stroke-width="0.38"><text transform="translate(37.00,17.00) scale(1.000,1.130)" font-size="10.10" fill="#161616" stroke="#161616" text-anchor="end" >2100</text>
<text transform="translate(37.00,185.10) scale(1.000,1.130)" font-size="10.10" fill="#161616" stroke="#161616" text-anchor="end" >2100</text>
<text transform="translate(37.00,36.94) scale(1.000,1.130)" font-size="10.10" fill="#161616" stroke="#161616" text-anchor="end" >2090</text>
<text transform="translate(37.00,202.70) scale(1.000,1.130)" font-size="10.10" fill="#161616" stroke="#161616" text-anchor="end" >2090</text>
<text transform="translate(37.00,56.88) scale(1.000,1.130)" font-size="10.10" fill="#161616" stroke="#161616" text-anchor="end" >2080</text>
<text transform="translate(37.00,222.73) scale(1.000,1.130)" font-size="10.10" fill="#161616" stroke="#161616" text-anchor="end" >2080</text>
<text transform="translate(37.00,76.82) scale(1.000,1.130)" font-size="10.10" fill="#161616" stroke="#161616" text-anchor="end" >2070</text>
<text transform="translate(37.00,242.76) scale(1.000,1.130)" font-size="10.10" fill="#161616" stroke="#161616" text-anchor="end" >2070</text>
<text transform="translate(37.00,96.76) scale(1.000,1.130)" font-size="10.10" fill="#161616" stroke="#161616" text-anchor="end" >2060</text>
<text transform="translate(37.00,262.79) scale(1.000,1.130)" font-size="10.10" fill="#161616" stroke="#161616" text-anchor="end" >2060</text>
<text transform="translate(37.00,116.70) scale(1.000,1.130)" font-size="10.10" fill="#161616" stroke="#161616" text-anchor="end" >2050</text>
<text transform="translate(37.00,282.82) scale(1.000,1.130)" font-size="10.10" fill="#161616" stroke="#161616" text-anchor="end" >2050</text>
<text transform="translate(37.00,136.64) scale(1.000,1.130)" font-size="10.10" fill="#161616" stroke="#161616" text-anchor="end" >2040</text>
<text transform="translate(37.00,302.85) scale(1.000,1.130)" font-size="10.10" fill="#161616" stroke="#161616" text-anchor="end" >2040</text>
<text transform="translate(37.00,156.58) scale(1.000,1.130)" font-size="10.10" fill="#161616" stroke="#161616" text-anchor="end" >2030</text>
<text transform="translate(37.00,322.88) scale(1.000,1.130)" font-size="10.10" fill="#161616" stroke="#161616" text-anchor="end" >2030</text>
<text transform="translate(37.00,174.60) scale(1.000,1.130)" font-size="10.10" fill="#161616" stroke="#161616" text-anchor="end" >2020</text>
<text transform="translate(37.00,342.91) scale(1.000,1.130)" font-size="10.10" fill="#161616" stroke="#161616" text-anchor="end" >2020</text>
<text transform="translate(8.30,91.20) rotate(-90) scale(1.000,1.100)" font-size="10.20" fill="#161616" stroke="#161616" text-anchor="middle" >Year</text>
<text transform="translate(8.30,258.20) rotate(-90) scale(1.000,1.100)" font-size="10.20" fill="#161616" stroke="#161616" text-anchor="middle" >Year</text>
<text transform="translate(55.60,348.80) scale(1.000,1.130)" font-size="10.10" fill="#161616" stroke="#161616" text-anchor="middle" >1</text>
<text transform="translate(89.90,348.80) scale(1.000,1.130)" font-size="10.10" fill="#161616" stroke="#161616" text-anchor="middle" >3</text>
<text transform="translate(124.00,348.80) scale(1.000,1.130)" font-size="10.10" fill="#161616" stroke="#161616" text-anchor="middle" >5</text>
<text transform="translate(157.80,348.80) scale(1.000,1.130)" font-size="10.10" fill="#161616" stroke="#161616" text-anchor="middle" >7</text>
<text transform="translate(191.50,348.80) scale(1.000,1.130)" font-size="10.10" fill="#161616" stroke="#161616" text-anchor="middle" >9</text>
<text transform="translate(227.20,348.80) scale(1.000,1.130)" font-size="10.10" fill="#161616" stroke="#161616" text-anchor="middle" >1</text>
<text transform="translate(260.60,348.80) scale(1.000,1.130)" font-size="10.10" fill="#161616" stroke="#161616" text-anchor="middle" >3</text>
<text transform="translate(294.40,348.80) scale(1.000,1.130)" font-size="10.10" fill="#161616" stroke="#161616" text-anchor="middle" >5</text>
<text transform="translate(328.00,348.80) scale(1.000,1.130)" font-size="10.10" fill="#161616" stroke="#161616" text-anchor="middle" >7</text>
<text transform="translate(361.80,348.80) scale(1.000,1.130)" font-size="10.10" fill="#161616" stroke="#161616" text-anchor="middle" >9</text>
<text transform="translate(397.00,348.80) scale(1.000,1.130)" font-size="10.10" fill="#161616" stroke="#161616" text-anchor="middle" >1</text>
<text transform="translate(431.30,348.80) scale(1.000,1.130)" font-size="10.10" fill="#161616" stroke="#161616" text-anchor="middle" >3</text>
<text transform="translate(465.20,348.80) scale(1.000,1.130)" font-size="10.10" fill="#161616" stroke="#161616" text-anchor="middle" >5</text>
<text transform="translate(499.00,348.80) scale(1.000,1.130)" font-size="10.10" fill="#161616" stroke="#161616" text-anchor="middle" >7</text>
<text transform="translate(532.60,348.80) scale(1.000,1.130)" font-size="10.10" fill="#161616" stroke="#161616" text-anchor="middle" >9</text>
<text transform="translate(124.10,361.90) scale(1.000,1.180)" font-size="9.95" fill="#161616" stroke="#161616" text-anchor="middle" >GB Ca(OH)<tspan font-size="6.6" dy="2.0">2</tspan><tspan dy="-2.0"> addition [Gt/yr]</tspan></text>
<text transform="translate(294.80,361.90) scale(1.000,1.180)" font-size="9.95" fill="#161616" stroke="#161616" text-anchor="middle" >CS Ca(OH)<tspan font-size="6.6" dy="2.0">2</tspan><tspan dy="-2.0"> addition [Gt/yr]</tspan></text>
<text transform="translate(465.30,361.90) scale(1.000,1.180)" font-size="9.95" fill="#161616" stroke="#161616" text-anchor="middle" >SC Ca(OH)<tspan font-size="6.6" dy="2.0">2</tspan><tspan dy="-2.0"> addition [Gt/yr]</tspan></text>
<text transform="translate(577.90,26.50) scale(1.000,1.130)" font-size="9.80" fill="#161616" stroke="#161616" text-anchor="middle" >0</text>
<text transform="translate(577.90,40.51) scale(1.000,1.130)" font-size="9.80" fill="#161616" stroke="#161616" text-anchor="middle" >100</text>
<text transform="translate(577.90,54.52) scale(1.000,1.130)" font-size="9.80" fill="#161616" stroke="#161616" text-anchor="middle" >200</text>
<text transform="translate(577.90,68.53) scale(1.000,1.130)" font-size="9.80" fill="#161616" stroke="#161616" text-anchor="middle" >300</text>
<text transform="translate(577.90,82.54) scale(1.000,1.130)" font-size="9.80" fill="#161616" stroke="#161616" text-anchor="middle" >400</text>
<text transform="translate(577.90,96.55) scale(1.000,1.130)" font-size="9.80" fill="#161616" stroke="#161616" text-anchor="middle" >500</text>
<text transform="translate(577.90,110.56) scale(1.000,1.130)" font-size="9.80" fill="#161616" stroke="#161616" text-anchor="middle" >600</text>
<text transform="translate(577.90,124.57) scale(1.000,1.130)" font-size="9.80" fill="#161616" stroke="#161616" text-anchor="middle" >700</text>
<text transform="translate(577.90,138.58) scale(1.000,1.130)" font-size="9.80" fill="#161616" stroke="#161616" text-anchor="middle" >800</text>
<text transform="translate(577.90,152.59) scale(1.000,1.130)" font-size="9.80" fill="#161616" stroke="#161616" text-anchor="middle" >900</text>
<text transform="translate(577.90,166.60) scale(1.000,1.130)" font-size="9.80" fill="#161616" stroke="#161616" text-anchor="middle" >1000</text>
<text transform="translate(577.90,190.40) scale(1.000,1.130)" font-size="9.80" fill="#161616" stroke="#161616" text-anchor="middle" >2</text>
<text transform="translate(577.90,211.17) scale(1.000,1.130)" font-size="9.80" fill="#161616" stroke="#161616" text-anchor="middle" >4</text>
<text transform="translate(577.90,231.94) scale(1.000,1.130)" font-size="9.80" fill="#161616" stroke="#161616" text-anchor="middle" >6</text>
<text transform="translate(577.90,252.71) scale(1.000,1.130)" font-size="9.80" fill="#161616" stroke="#161616" text-anchor="middle" >8</text>
<text transform="translate(577.90,273.49) scale(1.000,1.130)" font-size="9.80" fill="#161616" stroke="#161616" text-anchor="middle" >10</text>
<text transform="translate(577.90,294.26) scale(1.000,1.130)" font-size="9.80" fill="#161616" stroke="#161616" text-anchor="middle" >12</text>
<text transform="translate(577.90,315.03) scale(1.000,1.130)" font-size="9.80" fill="#161616" stroke="#161616" text-anchor="middle" >14</text>
<text transform="translate(577.90,335.80) scale(1.000,1.130)" font-size="9.80" fill="#161616" stroke="#161616" text-anchor="middle" >16</text>
<text transform="translate(594.90,92.20) rotate(90) scale(1.000,1.100)" font-size="9.80" fill="#161616" stroke="#161616" text-anchor="middle" >Surface pCO<tspan font-size="6.6" dy="2">2</tspan><tspan dy="-2"> [&#956;atm]</tspan></text>
<text transform="translate(594.80,253.30) rotate(90) scale(1.000,1.100)" font-size="9.80" fill="#161616" stroke="#161616" text-anchor="middle" >Surface aragonite &#937;</text>
<text transform="translate(42.00,22.40) scale(1.000,1.050)" font-size="9.00" fill="#ffffff" stroke="#ffffff" text-anchor="start" >a)</text>
<text transform="translate(212.80,22.40) scale(1.000,1.050)" font-size="9.00" fill="#ffffff" stroke="#ffffff" text-anchor="start" >b)</text>
<text transform="translate(384.00,22.40) scale(1.000,1.050)" font-size="9.00" fill="#ffffff" stroke="#ffffff" text-anchor="start" >c)</text>
<text transform="translate(41.80,188.80) scale(1.000,1.050)" font-size="8.00" fill="#2a2a2a" stroke="#2a2a2a" text-anchor="start" >d)</text>
<text transform="translate(212.60,188.80) scale(1.000,1.050)" font-size="8.00" fill="#2a2a2a" stroke="#2a2a2a" text-anchor="start" >e)</text>
<text transform="translate(384.60,188.80) scale(1.000,1.050)" font-size="8.00" fill="#2a2a2a" stroke="#2a2a2a" text-anchor="start" >f)</text>
<text transform="translate(70.40,41.30) scale(1.000,1.200)" font-size="9.75" fill="#161616" stroke="#161616" text-anchor="start" >pCO2=500</text>
<text transform="translate(279.60,41.80) scale(1.000,1.200)" font-size="9.75" fill="#161616" stroke="#161616" text-anchor="start" >pCO2=500</text>
<text transform="translate(465.60,42.00) scale(1.000,1.200)" font-size="9.75" fill="#161616" stroke="#161616" text-anchor="start" >pCO2=500</text>
<text transform="translate(56.00,199.70) scale(1.000,1.180)" font-size="9.90" fill="#161616" stroke="#161616" text-anchor="start" >&#937;=3</text>
<text transform="translate(240.20,200.50) scale(1.000,1.180)" font-size="9.90" fill="#161616" stroke="#161616" text-anchor="start" >&#937;=3</text>
<text transform="translate(405.90,198.80) scale(1.000,1.180)" font-size="9.90" fill="#161616" stroke="#161616" text-anchor="start" >&#937;=3</text></svg>
</div></body></html>
